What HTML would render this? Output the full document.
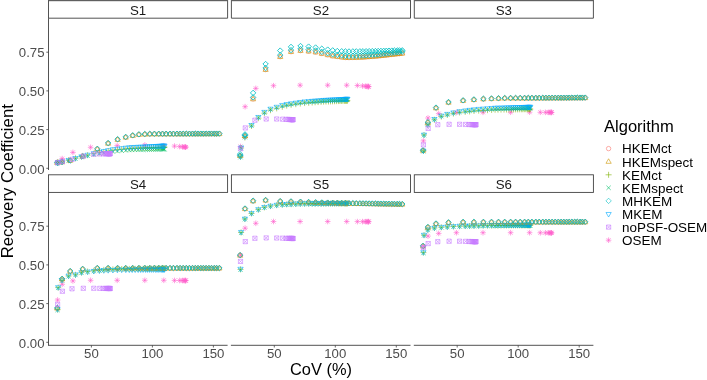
<!DOCTYPE html>
<html lang="en"><head><meta charset="utf-8"><title>Recovery Coefficient vs CoV</title>
<style>html,body{margin:0;padding:0;background:#fff}body{width:707px;height:380px;overflow:hidden}</style>
</head><body>
<svg width="707" height="380" viewBox="0 0 707 380" style="display:block;font-family:'Liberation Sans',Arial,Helvetica,sans-serif">
<rect width="707" height="380" fill="#fff"/>
<path d="M48.5 0V18.2H227.6V0" fill="none" stroke="#404040" stroke-width="0.9"/>
<rect x="48.5" y="0" width="179.1" height="1.2" fill="#606060"/>
<text x="138.05" y="14.5" font-size="13.3" text-anchor="middle" fill="#1a1a1a">S1</text>
<path d="M231.4 0V18.2H410.5V0" fill="none" stroke="#404040" stroke-width="0.9"/>
<rect x="231.4" y="0" width="179.1" height="1.2" fill="#606060"/>
<text x="320.95" y="14.5" font-size="13.3" text-anchor="middle" fill="#1a1a1a">S2</text>
<path d="M414.3 0V18.2H593.4V0" fill="none" stroke="#404040" stroke-width="0.9"/>
<rect x="414.3" y="0" width="179.1" height="1.2" fill="#606060"/>
<text x="503.85" y="14.5" font-size="13.3" text-anchor="middle" fill="#1a1a1a">S3</text>
<rect x="48.5" y="174.8" width="179.1" height="17.6" fill="none" stroke="#404040" stroke-width="0.9"/>
<text x="138.05" y="188.7" font-size="13.3" text-anchor="middle" fill="#1a1a1a">S4</text>
<rect x="231.4" y="174.8" width="179.1" height="17.6" fill="none" stroke="#404040" stroke-width="0.9"/>
<text x="320.95" y="188.7" font-size="13.3" text-anchor="middle" fill="#1a1a1a">S5</text>
<rect x="414.3" y="174.8" width="179.1" height="17.6" fill="none" stroke="#404040" stroke-width="0.9"/>
<text x="503.85" y="188.7" font-size="13.3" text-anchor="middle" fill="#1a1a1a">S6</text>
<path d="M48.5 18.2V170" stroke="#404040" stroke-width="0.9" fill="none"/>
<path d="M46.3 168.3H48.5" stroke="#444" stroke-width="0.8" fill="none"/>
<text x="44.5" y="173.5" font-size="13.2" text-anchor="end" fill="#4d4d4d">0.00</text>
<path d="M46.3 129.6H48.5" stroke="#444" stroke-width="0.8" fill="none"/>
<text x="44.5" y="134.8" font-size="13.2" text-anchor="end" fill="#4d4d4d">0.25</text>
<path d="M46.3 90.9H48.5" stroke="#444" stroke-width="0.8" fill="none"/>
<text x="44.5" y="96.1" font-size="13.2" text-anchor="end" fill="#4d4d4d">0.50</text>
<path d="M46.3 52.2H48.5" stroke="#444" stroke-width="0.8" fill="none"/>
<text x="44.5" y="57.4" font-size="13.2" text-anchor="end" fill="#4d4d4d">0.75</text>
<path d="M48.5 192.4V345.3" stroke="#404040" stroke-width="0.9" fill="none"/>
<path d="M46.3 342.3H48.5" stroke="#444" stroke-width="0.8" fill="none"/>
<text x="44.5" y="347.5" font-size="13.2" text-anchor="end" fill="#4d4d4d">0.00</text>
<path d="M46.3 303.6H48.5" stroke="#444" stroke-width="0.8" fill="none"/>
<text x="44.5" y="308.8" font-size="13.2" text-anchor="end" fill="#4d4d4d">0.25</text>
<path d="M46.3 264.9H48.5" stroke="#444" stroke-width="0.8" fill="none"/>
<text x="44.5" y="270.1" font-size="13.2" text-anchor="end" fill="#4d4d4d">0.50</text>
<path d="M46.3 226.2H48.5" stroke="#444" stroke-width="0.8" fill="none"/>
<text x="44.5" y="231.4" font-size="13.2" text-anchor="end" fill="#4d4d4d">0.75</text>
<path d="M48 345.3H227.6" stroke="#404040" stroke-width="0.9" fill="none"/>
<path d="M91.4 345.3V347.5" stroke="#444" stroke-width="0.8" fill="none"/>
<text x="91.4" y="358.2" font-size="13.2" text-anchor="middle" fill="#4d4d4d">50</text>
<path d="M152.4 345.3V347.5" stroke="#444" stroke-width="0.8" fill="none"/>
<text x="152.4" y="358.2" font-size="13.2" text-anchor="middle" fill="#4d4d4d">100</text>
<path d="M213.4 345.3V347.5" stroke="#444" stroke-width="0.8" fill="none"/>
<text x="213.4" y="358.2" font-size="13.2" text-anchor="middle" fill="#4d4d4d">150</text>
<path d="M230.9 345.3H410.5" stroke="#404040" stroke-width="0.9" fill="none"/>
<path d="M274.3 345.3V347.5" stroke="#444" stroke-width="0.8" fill="none"/>
<text x="274.3" y="358.2" font-size="13.2" text-anchor="middle" fill="#4d4d4d">50</text>
<path d="M335.3 345.3V347.5" stroke="#444" stroke-width="0.8" fill="none"/>
<text x="335.3" y="358.2" font-size="13.2" text-anchor="middle" fill="#4d4d4d">100</text>
<path d="M396.3 345.3V347.5" stroke="#444" stroke-width="0.8" fill="none"/>
<text x="396.3" y="358.2" font-size="13.2" text-anchor="middle" fill="#4d4d4d">150</text>
<path d="M413.8 345.3H593.4" stroke="#404040" stroke-width="0.9" fill="none"/>
<path d="M457.2 345.3V347.5" stroke="#444" stroke-width="0.8" fill="none"/>
<text x="457.2" y="358.2" font-size="13.2" text-anchor="middle" fill="#4d4d4d">50</text>
<path d="M518.2 345.3V347.5" stroke="#444" stroke-width="0.8" fill="none"/>
<text x="518.2" y="358.2" font-size="13.2" text-anchor="middle" fill="#4d4d4d">100</text>
<path d="M579.2 345.3V347.5" stroke="#444" stroke-width="0.8" fill="none"/>
<text x="579.2" y="358.2" font-size="13.2" text-anchor="middle" fill="#4d4d4d">150</text>
<text x="321" y="374.6" font-size="16.4" text-anchor="middle" fill="#000">CoV (%)</text>
<text transform="translate(13.0,181.25) rotate(-90) scale(1.0345,1)" font-size="16.2" text-anchor="middle" fill="#000">Recovery Coefficient</text>
<g>
<g fill="none" stroke="#FF61CC" stroke-width="0.6" stroke-linejoin="round">
<path d="M54.8 162H60.4M57.6 159.2V164.8M55.6 160L59.6 164M55.6 164L59.6 160"/>
<path d="M59.4 158.6H65M62.2 155.8V161.4M60.2 156.6L64.2 160.6M60.2 160.6L64.2 156.6"/>
<path d="M70.1 152.4H75.7M72.9 149.6V155.2M70.9 150.4L74.9 154.4M70.9 154.4L74.9 150.4"/>
<path d="M87.8 147.3H93.4M90.6 144.5V150.1M88.6 145.3L92.6 149.3M88.6 149.3L92.6 145.3"/>
<path d="M114.4 145.6H120M117.2 142.8V148.4M115.2 143.6L119.2 147.6M115.2 147.6L119.2 143.6"/>
<path d="M142 145.01H147.6M144.8 142.21V147.81M142.8 143.01L146.8 147.01M142.8 147.01L146.8 143.01"/>
<path d="M161 145.7H166.6M163.8 142.9V148.5M161.8 143.7L165.8 147.7M161.8 147.7L165.8 143.7"/>
<path d="M171.7 146.1H177.3M174.5 143.3V148.9M172.5 144.1L176.5 148.1M172.5 148.1L176.5 144.1"/>
<path d="M176.8 146.55H182.4M179.6 143.75V149.35M177.6 144.55L181.6 148.55M177.6 148.55L181.6 144.55"/>
<path d="M179.7 146.82H185.3M182.5 144.02V149.62M180.5 144.82L184.5 148.82M180.5 148.82L184.5 144.82"/>
<path d="M181.2 146.96H186.8M184 144.16V149.76M182 144.96L186 148.96M182 148.96L186 144.96"/>
<path d="M182.2 147.05H187.8M185 144.25V149.85M183 145.05L187 149.05M183 149.05L187 145.05"/>
<path d="M182.7 147.1H188.3M185.5 144.3V149.9M183.5 145.1L187.5 149.1M183.5 149.1L187.5 145.1"/>
<path d="M183 147.12H188.6M185.8 144.32V149.93M183.8 145.12L187.8 149.12M183.8 149.12L187.8 145.12"/>
</g>
<g fill="none" stroke="#7CAE00" stroke-width="0.55" stroke-linejoin="round">
<path d="M54.6 162.8H60.6M57.6 159.8V165.8"/>
<path d="M55.2 162.5H61.2M58.2 159.5V165.5"/>
<path d="M59 161.8H65M62 158.8V164.8"/>
<path d="M65.6 160.2H71.6M68.6 157.2V163.2"/>
<path d="M72.5 158.29H78.5M75.5 155.29V161.29"/>
<path d="M78.5 156.64H84.5M81.5 153.64V159.64"/>
<path d="M84.6 155.16H90.6M87.6 152.16V158.16"/>
<path d="M90.8 153.69H96.8M93.8 150.69V156.69"/>
<path d="M96.4 152.62H102.4M99.4 149.62V155.62"/>
<path d="M100.8 151.84H106.8M103.8 148.84V154.84"/>
<path d="M105.2 151.05H111.2M108.2 148.05V154.05"/>
<path d="M109.9 150.22H115.9M112.9 147.22V153.22"/>
<path d="M114.4 149.76H120.4M117.4 146.76V152.76"/>
<path d="M118.7 149.33H124.7M121.7 146.33V152.33"/>
<path d="M122.8 148.92H128.8M125.8 145.92V151.92"/>
<path d="M126.3 148.57H132.3M129.3 145.57V151.57"/>
<path d="M129.2 148.42H135.2M132.2 145.42V151.42"/>
<path d="M132.2 148.3H138.2M135.2 145.3V151.3"/>
<path d="M135.2 148.19H141.2M138.2 145.19V151.19"/>
<path d="M137.7 148.1H143.7M140.7 145.1V151.1"/>
<path d="M140.1 148.01H146.1M143.1 145.01V151.01"/>
<path d="M142.6 147.91H148.6M145.6 144.91V150.91"/>
<path d="M144.6 147.84H150.6M147.6 144.84V150.84"/>
<path d="M146.6 147.76H152.6M149.6 144.76V150.76"/>
<path d="M148.6 147.69H154.6M151.6 144.69V150.69"/>
<path d="M150.5 147.61H156.5M153.5 144.61V150.61"/>
<path d="M152.5 147.54H158.5M155.5 144.54V150.54"/>
<path d="M154 147.48H160M157 144.48V150.48"/>
<path d="M155.5 147.43H161.5M158.5 144.43V150.43"/>
<path d="M157 147.37H163M160 144.37V150.37"/>
<path d="M158.5 147.31H164.5M161.5 144.31V150.31"/>
<path d="M159.4 147.28H165.4M162.4 144.28V150.28"/>
<path d="M160.2 147.25H166.2M163.2 144.25V150.25"/>
<path d="M160.9 147.22H166.9M163.9 144.22V150.22"/>
<path d="M161.5 147.2H167.5M164.5 144.2V150.2"/>
</g>
<g fill="none" stroke="#00BE67" stroke-width="0.55" stroke-linejoin="round">
<path d="M55.45 160.85L59.75 165.15M55.45 165.15L59.75 160.85"/>
<path d="M56.05 160.55L60.35 164.85M56.05 164.85L60.35 160.55"/>
<path d="M59.85 159.85L64.15 164.15M59.85 164.15L64.15 159.85"/>
<path d="M66.45 158.35L70.75 162.65M66.45 162.65L70.75 158.35"/>
<path d="M73.35 156.55L77.65 160.85M73.35 160.85L77.65 156.55"/>
<path d="M79.35 154.98L83.65 159.28M79.35 159.28L83.65 154.98"/>
<path d="M85.45 153.64L89.75 157.94M85.45 157.94L89.75 153.64"/>
<path d="M91.65 152.31L95.95 156.61M91.65 156.61L95.95 152.31"/>
<path d="M97.25 151.39L101.55 155.69M97.25 155.69L101.55 151.39"/>
<path d="M101.65 150.73L105.95 155.03M101.65 155.03L105.95 150.73"/>
<path d="M106.05 150.07L110.35 154.37M106.05 154.37L110.35 150.07"/>
<path d="M110.75 149.36L115.05 153.66M110.75 153.66L115.05 149.36"/>
<path d="M115.25 148.96L119.55 153.26M115.25 153.26L119.55 148.96"/>
<path d="M119.55 148.58L123.85 152.88M119.55 152.88L123.85 148.58"/>
<path d="M123.65 148.22L127.95 152.52M123.65 152.52L127.95 148.22"/>
<path d="M127.15 147.91L131.45 152.21M127.15 152.21L131.45 147.91"/>
<path d="M130.05 147.8L134.35 152.1M130.05 152.1L134.35 147.8"/>
<path d="M133.05 147.73L137.35 152.03M133.05 152.03L137.35 147.73"/>
<path d="M136.05 147.66L140.35 151.96M136.05 151.96L140.35 147.66"/>
<path d="M138.55 147.6L142.85 151.9M138.55 151.9L142.85 147.6"/>
<path d="M140.95 147.55L145.25 151.85M140.95 151.85L145.25 147.55"/>
<path d="M143.45 147.49L147.75 151.79M143.45 151.79L147.75 147.49"/>
<path d="M145.45 147.44L149.75 151.74M145.45 151.74L149.75 147.44"/>
<path d="M147.45 147.4L151.75 151.7M147.45 151.7L151.75 147.4"/>
<path d="M149.45 147.35L153.75 151.65M149.45 151.65L153.75 147.35"/>
<path d="M151.35 147.31L155.65 151.61M151.35 151.61L155.65 147.31"/>
<path d="M153.35 147.26L157.65 151.56M153.35 151.56L157.65 147.26"/>
<path d="M154.85 147.22L159.15 151.52M154.85 151.52L159.15 147.22"/>
<path d="M156.35 147.19L160.65 151.49M156.35 151.49L160.65 147.19"/>
<path d="M157.85 147.15L162.15 151.45M157.85 151.45L162.15 147.15"/>
<path d="M159.35 147.12L163.65 151.42M159.35 151.42L163.65 147.12"/>
<path d="M160.25 147.1L164.55 151.4M160.25 151.4L164.55 147.1"/>
<path d="M161.05 147.08L165.35 151.38M161.05 151.38L165.35 147.08"/>
<path d="M161.75 147.06L166.05 151.36M161.75 151.36L166.05 147.06"/>
<path d="M162.35 147.05L166.65 151.35M162.35 151.35L166.65 147.05"/>
</g>
<g fill="none" stroke="#00A9FF" stroke-width="0.55" stroke-linejoin="round">
<path d="M57.6 165.63L60.23 161.08L54.97 161.08Z"/>
<path d="M58.2 165.33L60.83 160.78L55.57 160.78Z"/>
<path d="M62 164.63L64.63 160.08L59.37 160.08Z"/>
<path d="M68.6 163.03L71.23 158.48L65.97 158.48Z"/>
<path d="M75.5 161.08L78.13 156.53L72.87 156.53Z"/>
<path d="M81.5 159.37L84.13 154.83L78.87 154.83Z"/>
<path d="M87.6 157.77L90.23 153.22L84.97 153.22Z"/>
<path d="M93.8 156.15L96.43 151.6L91.17 151.6Z"/>
<path d="M99.4 154.95L102.03 150.4L96.77 150.4Z"/>
<path d="M103.8 154.07L106.43 149.52L101.17 149.52Z"/>
<path d="M108.2 153.19L110.83 148.64L105.57 148.64Z"/>
<path d="M112.9 152.25L115.53 147.7L110.27 147.7Z"/>
<path d="M117.4 151.71L120.03 147.17L114.77 147.17Z"/>
<path d="M121.7 151.21L124.33 146.66L119.07 146.66Z"/>
<path d="M125.8 150.73L128.43 146.18L123.17 146.18Z"/>
<path d="M129.3 150.31L131.93 145.77L126.67 145.77Z"/>
<path d="M132.2 150.13L134.83 145.58L129.57 145.58Z"/>
<path d="M135.2 149.99L137.83 145.44L132.57 145.44Z"/>
<path d="M138.2 149.85L140.83 145.3L135.57 145.3Z"/>
<path d="M140.7 149.74L143.33 145.19L138.07 145.19Z"/>
<path d="M143.1 149.62L145.73 145.08L140.47 145.08Z"/>
<path d="M145.6 149.51L148.23 144.96L142.97 144.96Z"/>
<path d="M147.6 149.42L150.23 144.87L144.97 144.87Z"/>
<path d="M149.6 149.32L152.23 144.77L146.97 144.77Z"/>
<path d="M151.6 149.23L154.23 144.68L148.97 144.68Z"/>
<path d="M153.5 149.14L156.13 144.59L150.87 144.59Z"/>
<path d="M155.5 149.05L158.13 144.5L152.87 144.5Z"/>
<path d="M157 148.98L159.63 144.43L154.37 144.43Z"/>
<path d="M158.5 148.91L161.13 144.36L155.87 144.36Z"/>
<path d="M160 148.84L162.63 144.29L157.37 144.29Z"/>
<path d="M161.5 148.77L164.13 144.22L158.87 144.22Z"/>
<path d="M162.4 148.73L165.03 144.18L159.77 144.18Z"/>
<path d="M163.2 148.69L165.83 144.14L160.57 144.14Z"/>
<path d="M163.9 148.66L166.53 144.11L161.27 144.11Z"/>
<path d="M164.5 148.63L167.13 144.08L161.87 144.08Z"/>
</g>
<g fill="none" stroke="#F8766D" stroke-width="0.55" stroke-linejoin="round">
<circle cx="57.2" cy="162.6" r="2.2"/>
<circle cx="62.1" cy="161.9" r="2.2"/>
<circle cx="70.2" cy="160.5" r="2.2"/>
<circle cx="82.7" cy="156.2" r="2.2"/>
<circle cx="97.3" cy="149.1" r="2.2"/>
<circle cx="108.1" cy="143.4" r="2.2"/>
<circle cx="117.6" cy="139.6" r="2.2"/>
<circle cx="125.7" cy="137.3" r="2.2"/>
<circle cx="132.7" cy="135.6" r="2.2"/>
<circle cx="138.9" cy="134.6" r="2.2"/>
<circle cx="144.8" cy="134.28" r="2.2"/>
<circle cx="149.8" cy="134.01" r="2.2"/>
<circle cx="154.4" cy="133.99" r="2.2"/>
<circle cx="158.8" cy="133.97" r="2.2"/>
<circle cx="162.5" cy="133.96" r="2.2"/>
<circle cx="166.1" cy="133.95" r="2.2"/>
<circle cx="170" cy="133.94" r="2.2"/>
<circle cx="173.4" cy="133.93" r="2.2"/>
<circle cx="177" cy="133.92" r="2.2"/>
<circle cx="180.1" cy="133.91" r="2.2"/>
<circle cx="183.2" cy="133.9" r="2.2"/>
<circle cx="186.3" cy="133.9" r="2.2"/>
<circle cx="189.4" cy="133.89" r="2.2"/>
<circle cx="192.5" cy="133.88" r="2.2"/>
<circle cx="195.3" cy="133.87" r="2.2"/>
<circle cx="198" cy="133.86" r="2.2"/>
<circle cx="200.8" cy="133.85" r="2.2"/>
<circle cx="203.4" cy="133.85" r="2.2"/>
<circle cx="206.1" cy="133.84" r="2.2"/>
<circle cx="208.9" cy="133.83" r="2.2"/>
<circle cx="211.5" cy="133.82" r="2.2"/>
<circle cx="214.3" cy="133.81" r="2.2"/>
<circle cx="216.6" cy="133.81" r="2.2"/>
<circle cx="219.4" cy="133.8" r="2.2"/>
</g>
<g fill="none" stroke="#CD9600" stroke-width="0.55" stroke-linejoin="round">
<path d="M57.2 159.87L59.83 164.42L54.57 164.42Z"/>
<path d="M62.1 159.17L64.73 163.72L59.47 163.72Z"/>
<path d="M70.2 157.77L72.83 162.32L67.57 162.32Z"/>
<path d="M82.7 153.47L85.33 158.02L80.07 158.02Z"/>
<path d="M97.3 146.37L99.93 150.92L94.67 150.92Z"/>
<path d="M108.1 140.67L110.73 145.22L105.47 145.22Z"/>
<path d="M117.6 136.87L120.23 141.42L114.97 141.42Z"/>
<path d="M125.7 134.57L128.33 139.12L123.07 139.12Z"/>
<path d="M132.7 132.87L135.33 137.42L130.07 137.42Z"/>
<path d="M138.9 131.87L141.53 136.42L136.27 136.42Z"/>
<path d="M144.8 131.55L147.43 136.1L142.17 136.1Z"/>
<path d="M149.8 131.28L152.43 135.83L147.17 135.83Z"/>
<path d="M154.4 131.26L157.03 135.8L151.77 135.8Z"/>
<path d="M158.8 131.24L161.43 135.79L156.17 135.79Z"/>
<path d="M162.5 131.23L165.13 135.78L159.87 135.78Z"/>
<path d="M166.1 131.22L168.73 135.77L163.47 135.77Z"/>
<path d="M170 131.21L172.63 135.76L167.37 135.76Z"/>
<path d="M173.4 131.2L176.03 135.75L170.77 135.75Z"/>
<path d="M177 131.19L179.63 135.74L174.37 135.74Z"/>
<path d="M180.1 131.18L182.73 135.73L177.47 135.73Z"/>
<path d="M183.2 131.17L185.83 135.72L180.57 135.72Z"/>
<path d="M186.3 131.16L188.93 135.71L183.67 135.71Z"/>
<path d="M189.4 131.15L192.03 135.7L186.77 135.7Z"/>
<path d="M192.5 131.15L195.13 135.69L189.87 135.69Z"/>
<path d="M195.3 131.14L197.93 135.69L192.67 135.69Z"/>
<path d="M198 131.13L200.63 135.68L195.37 135.68Z"/>
<path d="M200.8 131.12L203.43 135.67L198.17 135.67Z"/>
<path d="M203.4 131.11L206.03 135.66L200.77 135.66Z"/>
<path d="M206.1 131.11L208.73 135.65L203.47 135.65Z"/>
<path d="M208.9 131.1L211.53 135.65L206.27 135.65Z"/>
<path d="M211.5 131.09L214.13 135.64L208.87 135.64Z"/>
<path d="M214.3 131.08L216.93 135.63L211.67 135.63Z"/>
<path d="M216.6 131.08L219.23 135.62L213.97 135.62Z"/>
<path d="M219.4 131.07L222.03 135.62L216.77 135.62Z"/>
</g>
<g fill="none" stroke="#00BFC4" stroke-width="0.85" stroke-linejoin="round">
<path d="M57.2 159.9L59.9 162.6L57.2 165.3L54.5 162.6Z"/>
<path d="M62.1 159.2L64.8 161.9L62.1 164.6L59.4 161.9Z"/>
<path d="M70.2 157.8L72.9 160.5L70.2 163.2L67.5 160.5Z"/>
<path d="M82.7 153.5L85.4 156.2L82.7 158.9L80 156.2Z"/>
<path d="M97.3 146.1L100 148.8L97.3 151.5L94.6 148.8Z"/>
<path d="M108.1 140.3L110.8 143L108.1 145.7L105.4 143Z"/>
<path d="M117.6 136.5L120.3 139.2L117.6 141.9L114.9 139.2Z"/>
<path d="M125.7 134.2L128.4 136.9L125.7 139.6L123 136.9Z"/>
<path d="M132.7 132.6L135.4 135.3L132.7 138L130 135.3Z"/>
<path d="M138.9 131.6L141.6 134.3L138.9 137L136.2 134.3Z"/>
<path d="M144.8 131.33L147.5 134.03L144.8 136.73L142.1 134.03Z"/>
<path d="M149.8 131.11L152.5 133.81L149.8 136.51L147.1 133.81Z"/>
<path d="M154.4 131.09L157.1 133.79L154.4 136.49L151.7 133.79Z"/>
<path d="M158.8 131.07L161.5 133.77L158.8 136.47L156.1 133.77Z"/>
<path d="M162.5 131.06L165.2 133.76L162.5 136.46L159.8 133.76Z"/>
<path d="M166.1 131.05L168.8 133.75L166.1 136.45L163.4 133.75Z"/>
<path d="M170 131.04L172.7 133.74L170 136.44L167.3 133.74Z"/>
<path d="M173.4 131.03L176.1 133.73L173.4 136.43L170.7 133.73Z"/>
<path d="M177 131.02L179.7 133.72L177 136.42L174.3 133.72Z"/>
<path d="M180.1 131.01L182.8 133.71L180.1 136.41L177.4 133.71Z"/>
<path d="M183.2 131L185.9 133.7L183.2 136.4L180.5 133.7Z"/>
<path d="M186.3 131L189 133.7L186.3 136.4L183.6 133.7Z"/>
<path d="M189.4 130.99L192.1 133.69L189.4 136.39L186.7 133.69Z"/>
<path d="M192.5 130.98L195.2 133.68L192.5 136.38L189.8 133.68Z"/>
<path d="M195.3 130.97L198 133.67L195.3 136.37L192.6 133.67Z"/>
<path d="M198 130.96L200.7 133.66L198 136.36L195.3 133.66Z"/>
<path d="M200.8 130.95L203.5 133.65L200.8 136.35L198.1 133.65Z"/>
<path d="M203.4 130.95L206.1 133.65L203.4 136.35L200.7 133.65Z"/>
<path d="M206.1 130.94L208.8 133.64L206.1 136.34L203.4 133.64Z"/>
<path d="M208.9 130.93L211.6 133.63L208.9 136.33L206.2 133.63Z"/>
<path d="M211.5 130.92L214.2 133.62L211.5 136.32L208.8 133.62Z"/>
<path d="M214.3 130.91L217 133.61L214.3 136.31L211.6 133.61Z"/>
<path d="M216.6 130.91L219.3 133.61L216.6 136.31L213.9 133.61Z"/>
<path d="M219.4 130.9L222.1 133.6L219.4 136.3L216.7 133.6Z"/>
</g>
<g fill="none" stroke="#C77CFF" stroke-width="0.6" stroke-linejoin="round">
<path d="M55.5 160.5H59.7V164.7H55.5ZM55.5 160.5L59.7 164.7M55.5 164.7L59.7 160.5"/>
<path d="M60.3 159.42H64.5V163.62H60.3ZM60.3 159.42L64.5 163.62M60.3 163.62L64.5 159.42"/>
<path d="M69.9 157.26H74.1V161.46H69.9ZM69.9 157.26L74.1 161.46M69.9 161.46L74.1 157.26"/>
<path d="M81.2 154.06H85.4V158.26H81.2ZM81.2 154.06L85.4 158.26M81.2 158.26L85.4 154.06"/>
<path d="M91.7 152.1H95.9V156.3H91.7ZM91.7 152.1L95.9 156.3M91.7 156.3L95.9 152.1"/>
<path d="M97.7 151.86H101.9V156.06H97.7ZM97.7 151.86L101.9 156.06M97.7 156.06L101.9 151.86"/>
<path d="M101.1 151.73H105.3V155.93H101.1ZM101.1 151.73L105.3 155.93M101.1 155.93L105.3 151.73"/>
<path d="M103.1 151.7H107.3V155.9H103.1ZM103.1 151.7L107.3 155.9M103.1 155.9L107.3 151.7"/>
<path d="M104.5 151.7H108.7V155.9H104.5ZM104.5 151.7L108.7 155.9M104.5 155.9L108.7 151.7"/>
<path d="M105.5 151.7H109.7V155.9H105.5ZM105.5 151.7L109.7 155.9M105.5 155.9L109.7 151.7"/>
<path d="M106.3 151.7H110.5V155.9H106.3ZM106.3 151.7L110.5 155.9M106.3 155.9L110.5 151.7"/>
<path d="M106.9 151.7H111.1V155.9H106.9ZM106.9 151.7L111.1 155.9M106.9 155.9L111.1 151.7"/>
<path d="M107.4 151.7H111.6V155.9H107.4ZM107.4 151.7L111.6 155.9M107.4 155.9L111.6 151.7"/>
<path d="M107.8 151.7H112V155.9H107.8ZM107.8 151.7L112 155.9M107.8 155.9L112 151.7"/>
<path d="M108.1 151.7H112.3V155.9H108.1ZM108.1 151.7L112.3 155.9M108.1 155.9L112.3 151.7"/>
</g>
</g>
<g>
<g fill="none" stroke="#FF61CC" stroke-width="0.6" stroke-linejoin="round">
<path d="M237.7 146.5H243.3M240.5 143.7V149.3M238.5 144.5L242.5 148.5M238.5 148.5L242.5 144.5"/>
<path d="M242.3 106.7H247.9M245.1 103.9V109.5M243.1 104.7L247.1 108.7M243.1 108.7L247.1 104.7"/>
<path d="M253 88.4H258.6M255.8 85.6V91.2M253.8 86.4L257.8 90.4M253.8 90.4L257.8 86.4"/>
<path d="M270.7 85.7H276.3M273.5 82.9V88.5M271.5 83.7L275.5 87.7M271.5 87.7L275.5 83.7"/>
<path d="M297.3 85.2H302.9M300.1 82.4V88M298.1 83.2L302.1 87.2M298.1 87.2L302.1 83.2"/>
<path d="M324.9 85.2H330.5M327.7 82.4V88M325.7 83.2L329.7 87.2M325.7 87.2L329.7 83.2"/>
<path d="M343.9 85.2H349.5M346.7 82.4V88M344.7 83.2L348.7 87.2M344.7 87.2L348.7 83.2"/>
<path d="M354.6 85.5H360.2M357.4 82.7V88.3M355.4 83.5L359.4 87.5M355.4 87.5L359.4 83.5"/>
<path d="M359.7 85.95H365.3M362.5 83.15V88.75M360.5 83.95L364.5 87.95M360.5 87.95L364.5 83.95"/>
<path d="M362.6 86.25H368.2M365.4 83.45V89.05M363.4 84.25L367.4 88.25M363.4 88.25L367.4 84.25"/>
<path d="M364.1 86.41H369.7M366.9 83.61V89.21M364.9 84.41L368.9 88.41M364.9 88.41L368.9 84.41"/>
<path d="M365.1 86.52H370.7M367.9 83.72V89.32M365.9 84.52L369.9 88.52M365.9 88.52L369.9 84.52"/>
<path d="M365.6 86.57H371.2M368.4 83.77V89.37M366.4 84.57L370.4 88.57M366.4 88.57L370.4 84.57"/>
<path d="M365.9 86.6H371.5M368.7 83.8V89.4M366.7 84.6L370.7 88.6M366.7 88.6L370.7 84.6"/>
</g>
<g fill="none" stroke="#7CAE00" stroke-width="0.55" stroke-linejoin="round">
<path d="M237.5 156.9H243.5M240.5 153.9V159.9"/>
<path d="M238.1 148H244.1M241.1 145V151"/>
<path d="M241.9 137.5H247.9M244.9 134.5V140.5"/>
<path d="M248.5 126H254.5M251.5 123V129"/>
<path d="M255.4 118.2H261.4M258.4 115.2V121.2"/>
<path d="M261.4 113.2H267.4M264.4 110.2V116.2"/>
<path d="M267.5 110.2H273.5M270.5 107.2V113.2"/>
<path d="M273.7 108.4H279.7M276.7 105.4V111.4"/>
<path d="M279.3 106.8H285.3M282.3 103.8V109.8"/>
<path d="M283.7 105.62H289.7M286.7 102.62V108.62"/>
<path d="M288.1 104.85H294.1M291.1 101.85V107.85"/>
<path d="M292.8 104.19H298.8M295.8 101.19V107.19"/>
<path d="M297.3 103.56H303.3M300.3 100.56V106.56"/>
<path d="M301.6 103.07H307.6M304.6 100.07V106.07"/>
<path d="M305.7 102.77H311.7M308.7 99.77V105.77"/>
<path d="M309.2 102.5H315.2M312.2 99.5V105.5"/>
<path d="M312.1 102.28H318.1M315.1 99.28V105.28"/>
<path d="M315.1 102.06H321.1M318.1 99.06V105.06"/>
<path d="M318.1 101.84H324.1M321.1 98.84V104.84"/>
<path d="M320.6 101.67H326.6M323.6 98.67V104.67"/>
<path d="M323 101.57H329M326 98.57V104.57"/>
<path d="M325.5 101.47H331.5M328.5 98.47V104.47"/>
<path d="M327.5 101.39H333.5M330.5 98.39V104.39"/>
<path d="M329.5 101.31H335.5M332.5 98.31V104.31"/>
<path d="M331.5 101.23H337.5M334.5 98.23V104.23"/>
<path d="M333.4 101.15H339.4M336.4 98.15V104.15"/>
<path d="M335.4 101.07H341.4M338.4 98.07V104.07"/>
<path d="M336.9 101.01H342.9M339.9 98.01V104.01"/>
<path d="M338.4 100.94H344.4M341.4 97.94V103.94"/>
<path d="M339.9 100.88H345.9M342.9 97.88V103.88"/>
<path d="M341.4 100.82H347.4M344.4 97.82V103.82"/>
<path d="M342.3 100.79H348.3M345.3 97.79V103.79"/>
<path d="M343.1 100.75H349.1M346.1 97.75V103.75"/>
<path d="M343.8 100.72H349.8M346.8 97.72V103.72"/>
<path d="M344.4 100.7H350.4M347.4 97.7V103.7"/>
</g>
<g fill="none" stroke="#00BE67" stroke-width="0.55" stroke-linejoin="round">
<path d="M238.35 155.05L242.65 159.35M238.35 159.35L242.65 155.05"/>
<path d="M238.95 145.85L243.25 150.15M238.95 150.15L243.25 145.85"/>
<path d="M242.75 135.05L247.05 139.35M242.75 139.35L247.05 135.05"/>
<path d="M249.35 123.45L253.65 127.75M249.35 127.75L253.65 123.45"/>
<path d="M256.25 115.45L260.55 119.75M256.25 119.75L260.55 115.45"/>
<path d="M262.25 110.45L266.55 114.75M262.25 114.75L266.55 110.45"/>
<path d="M268.35 107.35L272.65 111.65M268.35 111.65L272.65 107.35"/>
<path d="M274.55 105.45L278.85 109.75M274.55 109.75L278.85 105.45"/>
<path d="M280.15 103.85L284.45 108.15M280.15 108.15L284.45 103.85"/>
<path d="M284.55 102.75L288.85 107.05M284.55 107.05L288.85 102.75"/>
<path d="M288.95 101.98L293.25 106.28M288.95 106.28L293.25 101.98"/>
<path d="M293.65 101.29L297.95 105.59M293.65 105.59L297.95 101.29"/>
<path d="M298.15 100.63L302.45 104.93M298.15 104.93L302.45 100.63"/>
<path d="M302.45 100.12L306.75 104.42M302.45 104.42L306.75 100.12"/>
<path d="M306.55 99.81L310.85 104.12M306.55 104.12L310.85 99.81"/>
<path d="M310.05 99.55L314.35 103.85M310.05 103.85L314.35 99.55"/>
<path d="M312.95 99.34L317.25 103.64M312.95 103.64L317.25 99.34"/>
<path d="M315.95 99.11L320.25 103.41M315.95 103.41L320.25 99.11"/>
<path d="M318.95 98.89L323.25 103.19M318.95 103.19L323.25 98.89"/>
<path d="M321.45 98.72L325.75 103.02M321.45 103.02L325.75 98.72"/>
<path d="M323.85 98.61L328.15 102.91M323.85 102.91L328.15 98.61"/>
<path d="M326.35 98.5L330.65 102.8M326.35 102.8L330.65 98.5"/>
<path d="M328.35 98.41L332.65 102.71M328.35 102.71L332.65 98.41"/>
<path d="M330.35 98.32L334.65 102.62M330.35 102.62L334.65 98.32"/>
<path d="M332.35 98.23L336.65 102.53M332.35 102.53L336.65 98.23"/>
<path d="M334.25 98.14L338.55 102.44M334.25 102.44L338.55 98.14"/>
<path d="M336.25 98.05L340.55 102.35M336.25 102.35L340.55 98.05"/>
<path d="M337.75 97.99L342.05 102.29M337.75 102.29L342.05 97.99"/>
<path d="M339.25 97.92L343.55 102.22M339.25 102.22L343.55 97.92"/>
<path d="M340.75 97.85L345.05 102.15M340.75 102.15L345.05 97.85"/>
<path d="M342.25 97.78L346.55 102.08M342.25 102.08L346.55 97.78"/>
<path d="M343.15 97.74L347.45 102.04M343.15 102.04L347.45 97.74"/>
<path d="M343.95 97.71L348.25 102.01M343.95 102.01L348.25 97.71"/>
<path d="M344.65 97.68L348.95 101.98M344.65 101.98L348.95 97.68"/>
<path d="M345.25 97.65L349.55 101.95M345.25 101.95L349.55 97.65"/>
</g>
<g fill="none" stroke="#00A9FF" stroke-width="0.55" stroke-linejoin="round">
<path d="M240.5 159.43L243.13 154.88L237.87 154.88Z"/>
<path d="M241.1 150.53L243.73 145.98L238.47 145.98Z"/>
<path d="M244.9 139.63L247.53 135.08L242.27 135.08Z"/>
<path d="M251.5 128.03L254.13 123.48L248.87 123.48Z"/>
<path d="M258.4 120.03L261.03 115.48L255.77 115.48Z"/>
<path d="M264.4 114.93L267.03 110.38L261.77 110.38Z"/>
<path d="M270.5 111.73L273.13 107.18L267.87 107.18Z"/>
<path d="M276.7 109.83L279.33 105.28L274.07 105.28Z"/>
<path d="M282.3 108.03L284.93 103.48L279.67 103.48Z"/>
<path d="M286.7 107.09L289.33 102.54L284.07 102.54Z"/>
<path d="M291.1 106.36L293.73 101.81L288.47 101.81Z"/>
<path d="M295.8 105.67L298.43 101.13L293.17 101.13Z"/>
<path d="M300.3 105.01L302.93 100.47L297.67 100.47Z"/>
<path d="M304.6 104.5L307.23 99.95L301.97 99.95Z"/>
<path d="M308.7 104.17L311.33 99.62L306.07 99.62Z"/>
<path d="M312.2 103.89L314.83 99.34L309.57 99.34Z"/>
<path d="M315.1 103.66L317.73 99.11L312.47 99.11Z"/>
<path d="M318.1 103.42L320.73 98.87L315.47 98.87Z"/>
<path d="M321.1 103.18L323.73 98.63L318.47 98.63Z"/>
<path d="M323.6 103L326.23 98.45L320.97 98.45Z"/>
<path d="M326 102.88L328.63 98.33L323.37 98.33Z"/>
<path d="M328.5 102.76L331.13 98.21L325.87 98.21Z"/>
<path d="M330.5 102.66L333.13 98.11L327.87 98.11Z"/>
<path d="M332.5 102.56L335.13 98.01L329.87 98.01Z"/>
<path d="M334.5 102.46L337.13 97.92L331.87 97.92Z"/>
<path d="M336.4 102.37L339.03 97.82L333.77 97.82Z"/>
<path d="M338.4 102.27L341.03 97.72L335.77 97.72Z"/>
<path d="M339.9 102.2L342.53 97.65L337.27 97.65Z"/>
<path d="M341.4 102.13L344.03 97.58L338.77 97.58Z"/>
<path d="M342.9 102.05L345.53 97.5L340.27 97.5Z"/>
<path d="M344.4 101.98L347.03 97.43L341.77 97.43Z"/>
<path d="M345.3 101.94L347.93 97.39L342.67 97.39Z"/>
<path d="M346.1 101.9L348.73 97.35L343.47 97.35Z"/>
<path d="M346.8 101.86L349.43 97.31L344.17 97.31Z"/>
<path d="M347.4 101.83L350.03 97.28L344.77 97.28Z"/>
</g>
<g fill="none" stroke="#F8766D" stroke-width="0.55" stroke-linejoin="round">
<circle cx="240.1" cy="155.7" r="2.2"/>
<circle cx="245" cy="136" r="2.2"/>
<circle cx="253.1" cy="99" r="2.2"/>
<circle cx="265.6" cy="69.6" r="2.2"/>
<circle cx="280.2" cy="56.7" r="2.2"/>
<circle cx="291" cy="51.7" r="2.2"/>
<circle cx="300.5" cy="50.6" r="2.2"/>
<circle cx="308.6" cy="51.2" r="2.2"/>
<circle cx="315.6" cy="52.1" r="2.2"/>
<circle cx="321.8" cy="53.5" r="2.2"/>
<circle cx="327.7" cy="54.83" r="2.2"/>
<circle cx="332.7" cy="55.95" r="2.2"/>
<circle cx="337.3" cy="56.53" r="2.2"/>
<circle cx="341.7" cy="57.07" r="2.2"/>
<circle cx="345.4" cy="57.52" r="2.2"/>
<circle cx="349" cy="57.63" r="2.2"/>
<circle cx="352.9" cy="57.51" r="2.2"/>
<circle cx="356.3" cy="57.41" r="2.2"/>
<circle cx="359.9" cy="57.29" r="2.2"/>
<circle cx="363" cy="57.19" r="2.2"/>
<circle cx="366.1" cy="56.94" r="2.2"/>
<circle cx="369.2" cy="56.7" r="2.2"/>
<circle cx="372.3" cy="56.45" r="2.2"/>
<circle cx="375.4" cy="56.2" r="2.2"/>
<circle cx="378.2" cy="55.97" r="2.2"/>
<circle cx="380.9" cy="55.67" r="2.2"/>
<circle cx="383.7" cy="55.36" r="2.2"/>
<circle cx="386.3" cy="55.07" r="2.2"/>
<circle cx="389" cy="54.77" r="2.2"/>
<circle cx="391.8" cy="54.46" r="2.2"/>
<circle cx="394.4" cy="54.17" r="2.2"/>
<circle cx="397.2" cy="53.86" r="2.2"/>
<circle cx="399.5" cy="53.61" r="2.2"/>
<circle cx="402.3" cy="53.3" r="2.2"/>
</g>
<g fill="none" stroke="#CD9600" stroke-width="0.55" stroke-linejoin="round">
<path d="M240.1 152.97L242.73 157.52L237.47 157.52Z"/>
<path d="M245 133.27L247.63 137.82L242.37 137.82Z"/>
<path d="M253.1 96.27L255.73 100.82L250.47 100.82Z"/>
<path d="M265.6 66.87L268.23 71.42L262.97 71.42Z"/>
<path d="M280.2 53.97L282.83 58.52L277.57 58.52Z"/>
<path d="M291 48.97L293.63 53.52L288.37 53.52Z"/>
<path d="M300.5 47.87L303.13 52.42L297.87 52.42Z"/>
<path d="M308.6 48.47L311.23 53.02L305.97 53.02Z"/>
<path d="M315.6 49.37L318.23 53.92L312.97 53.92Z"/>
<path d="M321.8 50.77L324.43 55.32L319.17 55.32Z"/>
<path d="M327.7 52.1L330.33 56.65L325.07 56.65Z"/>
<path d="M332.7 53.22L335.33 57.77L330.07 57.77Z"/>
<path d="M337.3 53.8L339.93 58.35L334.67 58.35Z"/>
<path d="M341.7 54.34L344.33 58.88L339.07 58.88Z"/>
<path d="M345.4 54.79L348.03 59.33L342.77 59.33Z"/>
<path d="M349 54.9L351.63 59.45L346.37 59.45Z"/>
<path d="M352.9 54.78L355.53 59.33L350.27 59.33Z"/>
<path d="M356.3 54.67L358.93 59.22L353.67 59.22Z"/>
<path d="M359.9 54.56L362.53 59.11L357.27 59.11Z"/>
<path d="M363 54.46L365.63 59.01L360.37 59.01Z"/>
<path d="M366.1 54.21L368.73 58.76L363.47 58.76Z"/>
<path d="M369.2 53.96L371.83 58.51L366.57 58.51Z"/>
<path d="M372.3 53.72L374.93 58.26L369.67 58.26Z"/>
<path d="M375.4 53.47L378.03 58.02L372.77 58.02Z"/>
<path d="M378.2 53.23L380.83 57.78L375.57 57.78Z"/>
<path d="M380.9 52.94L383.53 57.48L378.27 57.48Z"/>
<path d="M383.7 52.63L386.33 57.17L381.07 57.17Z"/>
<path d="M386.3 52.34L388.93 56.89L383.67 56.89Z"/>
<path d="M389 52.04L391.63 56.59L386.37 56.59Z"/>
<path d="M391.8 51.73L394.43 56.28L389.17 56.28Z"/>
<path d="M394.4 51.44L397.03 55.99L391.77 55.99Z"/>
<path d="M397.2 51.13L399.83 55.68L394.57 55.68Z"/>
<path d="M399.5 50.88L402.13 55.43L396.87 55.43Z"/>
<path d="M402.3 50.57L404.93 55.12L399.67 55.12Z"/>
</g>
<g fill="none" stroke="#00BFC4" stroke-width="0.85" stroke-linejoin="round">
<path d="M240.1 153L242.8 155.7L240.1 158.4L237.4 155.7Z"/>
<path d="M245 132.7L247.7 135.4L245 138.1L242.3 135.4Z"/>
<path d="M253.1 90.2L255.8 92.9L253.1 95.6L250.4 92.9Z"/>
<path d="M265.6 61.3L268.3 64L265.6 66.7L262.9 64Z"/>
<path d="M280.2 47.9L282.9 50.6L280.2 53.3L277.5 50.6Z"/>
<path d="M291 44.2L293.7 46.9L291 49.6L288.3 46.9Z"/>
<path d="M300.5 43.3L303.2 46L300.5 48.7L297.8 46Z"/>
<path d="M308.6 43.9L311.3 46.6L308.6 49.3L305.9 46.6Z"/>
<path d="M315.6 44.8L318.3 47.5L315.6 50.2L312.9 47.5Z"/>
<path d="M321.8 46L324.5 48.7L321.8 51.4L319.1 48.7Z"/>
<path d="M327.7 46.9L330.4 49.6L327.7 52.3L325 49.6Z"/>
<path d="M332.7 47.66L335.4 50.36L332.7 53.06L330 50.36Z"/>
<path d="M337.3 48.32L340 51.02L337.3 53.72L334.6 51.02Z"/>
<path d="M341.7 48.54L344.4 51.24L341.7 53.94L339 51.24Z"/>
<path d="M345.4 48.72L348.1 51.42L345.4 54.12L342.7 51.42Z"/>
<path d="M349 48.77L351.7 51.47L349 54.17L346.3 51.47Z"/>
<path d="M352.9 48.72L355.6 51.42L352.9 54.12L350.2 51.42Z"/>
<path d="M356.3 48.67L359 51.37L356.3 54.07L353.6 51.37Z"/>
<path d="M359.9 48.63L362.6 51.33L359.9 54.03L357.2 51.33Z"/>
<path d="M363 48.58L365.7 51.28L363 53.98L360.3 51.28Z"/>
<path d="M366.1 48.52L368.8 51.22L366.1 53.92L363.4 51.22Z"/>
<path d="M369.2 48.46L371.9 51.16L369.2 53.86L366.5 51.16Z"/>
<path d="M372.3 48.4L375 51.1L372.3 53.8L369.6 51.1Z"/>
<path d="M375.4 48.35L378.1 51.05L375.4 53.75L372.7 51.05Z"/>
<path d="M378.2 48.29L380.9 50.99L378.2 53.69L375.5 50.99Z"/>
<path d="M380.9 48.21L383.6 50.91L380.9 53.61L378.2 50.91Z"/>
<path d="M383.7 48.13L386.4 50.83L383.7 53.53L381 50.83Z"/>
<path d="M386.3 48.06L389 50.76L386.3 53.46L383.6 50.76Z"/>
<path d="M389 47.98L391.7 50.68L389 53.38L386.3 50.68Z"/>
<path d="M391.8 47.9L394.5 50.6L391.8 53.3L389.1 50.6Z"/>
<path d="M394.4 47.83L397.1 50.53L394.4 53.23L391.7 50.53Z"/>
<path d="M397.2 47.75L399.9 50.45L397.2 53.15L394.5 50.45Z"/>
<path d="M399.5 47.68L402.2 50.38L399.5 53.08L396.8 50.38Z"/>
<path d="M402.3 47.6L405 50.3L402.3 53L399.6 50.3Z"/>
</g>
<g fill="none" stroke="#00BFC4" stroke-width="0.85" stroke-linejoin="round">
<path d="M240.1 151.4L242.8 154.1L240.1 156.8L237.4 154.1Z"/>
<path d="M245 131.7L247.7 134.4L245 137.1L242.3 134.4Z"/>
<path d="M253.1 94.7L255.8 97.4L253.1 100.1L250.4 97.4Z"/>
<path d="M265.6 65.3L268.3 68L265.6 70.7L262.9 68Z"/>
<path d="M280.2 52.4L282.9 55.1L280.2 57.8L277.5 55.1Z"/>
<path d="M291 47.4L293.7 50.1L291 52.8L288.3 50.1Z"/>
<path d="M300.5 46.3L303.2 49L300.5 51.7L297.8 49Z"/>
<path d="M308.6 46.9L311.3 49.6L308.6 52.3L305.9 49.6Z"/>
<path d="M315.6 47.8L318.3 50.5L315.6 53.2L312.9 50.5Z"/>
<path d="M321.8 49.2L324.5 51.9L321.8 54.6L319.1 51.9Z"/>
<path d="M327.7 50.53L330.4 53.23L327.7 55.93L325 53.23Z"/>
<path d="M332.7 51.65L335.4 54.35L332.7 57.05L330 54.35Z"/>
<path d="M337.3 52.23L340 54.93L337.3 57.63L334.6 54.93Z"/>
<path d="M341.7 52.77L344.4 55.47L341.7 58.17L339 55.47Z"/>
<path d="M345.4 53.22L348.1 55.92L345.4 58.62L342.7 55.92Z"/>
<path d="M349 53.33L351.7 56.03L349 58.73L346.3 56.03Z"/>
<path d="M352.9 53.21L355.6 55.91L352.9 58.61L350.2 55.91Z"/>
<path d="M356.3 53.11L359 55.81L356.3 58.51L353.6 55.81Z"/>
<path d="M359.9 52.99L362.6 55.69L359.9 58.39L357.2 55.69Z"/>
<path d="M363 52.89L365.7 55.59L363 58.29L360.3 55.59Z"/>
<path d="M366.1 52.64L368.8 55.34L366.1 58.04L363.4 55.34Z"/>
<path d="M369.2 52.4L371.9 55.1L369.2 57.8L366.5 55.1Z"/>
<path d="M372.3 52.15L375 54.85L372.3 57.55L369.6 54.85Z"/>
<path d="M375.4 51.9L378.1 54.6L375.4 57.3L372.7 54.6Z"/>
<path d="M378.2 51.67L380.9 54.37L378.2 57.07L375.5 54.37Z"/>
<path d="M380.9 51.37L383.6 54.07L380.9 56.77L378.2 54.07Z"/>
<path d="M383.7 51.06L386.4 53.76L383.7 56.46L381 53.76Z"/>
<path d="M386.3 50.77L389 53.47L386.3 56.17L383.6 53.47Z"/>
<path d="M389 50.47L391.7 53.17L389 55.87L386.3 53.17Z"/>
<path d="M391.8 50.16L394.5 52.86L391.8 55.56L389.1 52.86Z"/>
<path d="M394.4 49.87L397.1 52.57L394.4 55.27L391.7 52.57Z"/>
<path d="M397.2 49.56L399.9 52.26L397.2 54.96L394.5 52.26Z"/>
<path d="M399.5 49.31L402.2 52.01L399.5 54.71L396.8 52.01Z"/>
<path d="M402.3 49L405 51.7L402.3 54.4L399.6 51.7Z"/>
</g>
<g fill="none" stroke="#C77CFF" stroke-width="0.6" stroke-linejoin="round">
<path d="M238.4 146.7H242.6V150.9H238.4ZM238.4 146.7L242.6 150.9M238.4 150.9L242.6 146.7"/>
<path d="M243.2 125.83H247.4V130.03H243.2ZM243.2 125.83L247.4 130.03M243.2 130.03L247.4 125.83"/>
<path d="M252.8 118.14H257V122.34H252.8ZM252.8 118.14L257 122.34M252.8 122.34L257 118.14"/>
<path d="M264.1 116.9H268.3V121.1H264.1ZM264.1 116.9L268.3 121.1M264.1 121.1L268.3 116.9"/>
<path d="M274.6 116.9H278.8V121.1H274.6ZM274.6 116.9L278.8 121.1M274.6 121.1L278.8 116.9"/>
<path d="M280.6 117.09H284.8V121.29H280.6ZM280.6 117.09L284.8 121.29M280.6 121.29L284.8 117.09"/>
<path d="M284 117.25H288.2V121.45H284ZM284 117.25L288.2 121.45M284 121.45L288.2 117.25"/>
<path d="M286 117.35H290.2V121.55H286ZM286 117.35L290.2 121.55M286 121.55L290.2 117.35"/>
<path d="M287.4 117.42H291.6V121.62H287.4ZM287.4 117.42L291.6 121.62M287.4 121.62L291.6 117.42"/>
<path d="M288.4 117.47H292.6V121.67H288.4ZM288.4 117.47L292.6 121.67M288.4 121.67L292.6 117.47"/>
<path d="M289.2 117.51H293.4V121.71H289.2ZM289.2 117.51L293.4 121.71M289.2 121.71L293.4 117.51"/>
<path d="M289.8 117.54H294V121.74H289.8ZM289.8 117.54L294 121.74M289.8 121.74L294 117.54"/>
<path d="M290.3 117.57H294.5V121.77H290.3ZM290.3 117.57L294.5 121.77M290.3 121.77L294.5 117.57"/>
<path d="M290.7 117.59H294.9V121.79H290.7ZM290.7 117.59L294.9 121.79M290.7 121.79L294.9 117.59"/>
<path d="M291 117.6H295.2V121.8H291ZM291 117.6L295.2 121.8M291 121.8L295.2 117.6"/>
</g>
</g>
<g>
<g fill="none" stroke="#FF61CC" stroke-width="0.6" stroke-linejoin="round">
<path d="M420.6 140.9H426.2M423.4 138.1V143.7M421.4 138.9L425.4 142.9M421.4 142.9L425.4 138.9"/>
<path d="M425.2 118H430.8M428 115.2V120.8M426 116L430 120M426 120L430 116"/>
<path d="M435.9 113.6H441.5M438.7 110.8V116.4M436.7 111.6L440.7 115.6M436.7 115.6L440.7 111.6"/>
<path d="M453.6 112.4H459.2M456.4 109.6V115.2M454.4 110.4L458.4 114.4M454.4 114.4L458.4 110.4"/>
<path d="M480.2 112.3H485.8M483 109.5V115.1M481 110.3L485 114.3M481 114.3L485 110.3"/>
<path d="M507.8 112.24H513.4M510.6 109.44V115.04M508.6 110.24L512.6 114.24M508.6 114.24L512.6 110.24"/>
<path d="M526.8 112.2H532.4M529.6 109.4V115M527.6 110.2L531.6 114.2M527.6 114.2L531.6 110.2"/>
<path d="M537.5 112.29H543.1M540.3 109.49V115.09M538.3 110.29L542.3 114.29M538.3 114.29L542.3 110.29"/>
<path d="M542.6 112.33H548.2M545.4 109.53V115.13M543.4 110.33L547.4 114.33M543.4 114.33L547.4 110.33"/>
<path d="M545.5 112.36H551.1M548.3 109.56V115.16M546.3 110.36L550.3 114.36M546.3 114.36L550.3 110.36"/>
<path d="M547 112.37H552.6M549.8 109.57V115.17M547.8 110.37L551.8 114.37M547.8 114.37L551.8 110.37"/>
<path d="M548 112.38H553.6M550.8 109.58V115.18M548.8 110.38L552.8 114.38M548.8 114.38L552.8 110.38"/>
<path d="M548.5 112.38H554.1M551.3 109.58V115.18M549.3 110.38L553.3 114.38M549.3 114.38L553.3 110.38"/>
<path d="M548.8 112.38H554.4M551.6 109.58V115.18M549.6 110.38L553.6 114.38M549.6 114.38L553.6 110.38"/>
</g>
<g fill="none" stroke="#7CAE00" stroke-width="0.55" stroke-linejoin="round">
<path d="M420.4 151H426.4M423.4 148V154"/>
<path d="M421 135H427M424 132V138"/>
<path d="M424.8 125H430.8M427.8 122V128"/>
<path d="M431.4 119.8H437.4M434.4 116.8V122.8"/>
<path d="M438.3 116.6H444.3M441.3 113.6V119.6"/>
<path d="M444.3 115H450.3M447.3 112V118"/>
<path d="M450.4 113.6H456.4M453.4 110.6V116.6"/>
<path d="M456.6 112.49H462.6M459.6 109.49V115.49"/>
<path d="M462.2 111.88H468.2M465.2 108.88V114.88"/>
<path d="M466.6 111.43H472.6M469.6 108.43V114.43"/>
<path d="M471 110.98H477M474 107.98V113.98"/>
<path d="M475.7 110.64H481.7M478.7 107.64V113.64"/>
<path d="M480.2 110.39H486.2M483.2 107.39V113.39"/>
<path d="M484.5 110.16H490.5M487.5 107.16V113.16"/>
<path d="M488.6 109.93H494.6M491.6 106.93V112.93"/>
<path d="M492.1 109.74H498.1M495.1 106.74V112.74"/>
<path d="M495 109.66H501M498 106.66V112.66"/>
<path d="M498 109.61H504M501 106.61V112.61"/>
<path d="M501 109.56H507M504 106.56V112.56"/>
<path d="M503.5 109.51H509.5M506.5 106.51V112.51"/>
<path d="M505.9 109.47H511.9M508.9 106.47V112.47"/>
<path d="M508.4 109.43H514.4M511.4 106.43V112.43"/>
<path d="M510.4 109.39H516.4M513.4 106.39V112.39"/>
<path d="M512.4 109.36H518.4M515.4 106.36V112.36"/>
<path d="M514.4 109.32H520.4M517.4 106.32V112.32"/>
<path d="M516.3 109.29H522.3M519.3 106.29V112.29"/>
<path d="M518.3 109.26H524.3M521.3 106.26V112.26"/>
<path d="M519.8 109.23H525.8M522.8 106.23V112.23"/>
<path d="M521.3 109.2H527.3M524.3 106.2V112.2"/>
<path d="M522.8 109.18H528.8M525.8 106.18V112.18"/>
<path d="M524.3 109.15H530.3M527.3 106.15V112.15"/>
<path d="M525.2 109.14H531.2M528.2 106.14V112.14"/>
<path d="M526 109.12H532M529 106.12V112.12"/>
<path d="M526.7 109.11H532.7M529.7 106.11V112.11"/>
<path d="M527.3 109.1H533.3M530.3 106.1V112.1"/>
</g>
<g fill="none" stroke="#00BE67" stroke-width="0.55" stroke-linejoin="round">
<path d="M421.25 149.15L425.55 153.45M421.25 153.45L425.55 149.15"/>
<path d="M421.85 133.05L426.15 137.35M421.85 137.35L426.15 133.05"/>
<path d="M425.65 122.65L429.95 126.95M425.65 126.95L429.95 122.65"/>
<path d="M432.25 117.35L436.55 121.65M432.25 121.65L436.55 117.35"/>
<path d="M439.15 114.05L443.45 118.35M439.15 118.35L443.45 114.05"/>
<path d="M445.15 112.45L449.45 116.75M445.15 116.75L449.45 112.45"/>
<path d="M451.25 111.05L455.55 115.35M451.25 115.35L455.55 111.05"/>
<path d="M457.45 109.85L461.75 114.15M457.45 114.15L461.75 109.85"/>
<path d="M463.05 109.17L467.35 113.47M463.05 113.47L467.35 109.17"/>
<path d="M467.45 108.66L471.75 112.96M467.45 112.96L471.75 108.66"/>
<path d="M471.85 108.16L476.15 112.46M471.85 112.46L476.15 108.16"/>
<path d="M476.55 107.78L480.85 112.08M476.55 112.08L480.85 107.78"/>
<path d="M481.05 107.51L485.35 111.81M481.05 111.81L485.35 107.51"/>
<path d="M485.35 107.25L489.65 111.55M485.35 111.55L489.65 107.25"/>
<path d="M489.45 107L493.75 111.3M489.45 111.3L493.75 107"/>
<path d="M492.95 106.79L497.25 111.09M492.95 111.09L497.25 106.79"/>
<path d="M495.85 106.71L500.15 111.01M495.85 111.01L500.15 106.71"/>
<path d="M498.85 106.64L503.15 110.94M498.85 110.94L503.15 106.64"/>
<path d="M501.85 106.58L506.15 110.88M501.85 110.88L506.15 106.58"/>
<path d="M504.35 106.53L508.65 110.83M504.35 110.83L508.65 106.53"/>
<path d="M506.75 106.48L511.05 110.78M506.75 110.78L511.05 106.48"/>
<path d="M509.25 106.43L513.55 110.73M509.25 110.73L513.55 106.43"/>
<path d="M511.25 106.39L515.55 110.69M511.25 110.69L515.55 106.39"/>
<path d="M513.25 106.35L517.55 110.65M513.25 110.65L517.55 106.35"/>
<path d="M515.25 106.31L519.55 110.61M515.25 110.61L519.55 106.31"/>
<path d="M517.15 106.27L521.45 110.57M517.15 110.57L521.45 106.27"/>
<path d="M519.15 106.23L523.45 110.53M519.15 110.53L523.45 106.23"/>
<path d="M520.65 106.2L524.95 110.5M520.65 110.5L524.95 106.2"/>
<path d="M522.15 106.17L526.45 110.47M522.15 110.47L526.45 106.17"/>
<path d="M523.65 106.14L527.95 110.44M523.65 110.44L527.95 106.14"/>
<path d="M525.15 106.11L529.45 110.41M525.15 110.41L529.45 106.11"/>
<path d="M526.05 106.09L530.35 110.39M526.05 110.39L530.35 106.09"/>
<path d="M526.85 106.08L531.15 110.38M526.85 110.38L531.15 106.08"/>
<path d="M527.55 106.06L531.85 110.36M527.55 110.36L531.85 106.06"/>
<path d="M528.15 106.05L532.45 110.35M528.15 110.35L532.45 106.05"/>
</g>
<g fill="none" stroke="#00A9FF" stroke-width="0.55" stroke-linejoin="round">
<path d="M423.4 153.63L426.03 149.08L420.77 149.08Z"/>
<path d="M424 137.63L426.63 133.08L421.37 133.08Z"/>
<path d="M427.8 127.43L430.43 122.88L425.17 122.88Z"/>
<path d="M434.4 122.03L437.03 117.48L431.77 117.48Z"/>
<path d="M441.3 118.63L443.93 114.08L438.67 114.08Z"/>
<path d="M447.3 116.93L449.93 112.38L444.67 112.38Z"/>
<path d="M453.4 115.43L456.03 110.88L450.77 110.88Z"/>
<path d="M459.6 114.23L462.23 109.68L456.97 109.68Z"/>
<path d="M465.2 113.48L467.83 108.93L462.57 108.93Z"/>
<path d="M469.6 112.92L472.23 108.37L466.97 108.37Z"/>
<path d="M474 112.36L476.63 107.81L471.37 107.81Z"/>
<path d="M478.7 111.93L481.33 107.38L476.07 107.38Z"/>
<path d="M483.2 111.61L485.83 107.07L480.57 107.07Z"/>
<path d="M487.5 111.31L490.13 106.76L484.87 106.76Z"/>
<path d="M491.6 111.03L494.23 106.48L488.97 106.48Z"/>
<path d="M495.1 110.78L497.73 106.23L492.47 106.23Z"/>
<path d="M498 110.67L500.63 106.13L495.37 106.13Z"/>
<path d="M501 110.6L503.63 106.05L498.37 106.05Z"/>
<path d="M504 110.52L506.63 105.97L501.37 105.97Z"/>
<path d="M506.5 110.45L509.13 105.9L503.87 105.9Z"/>
<path d="M508.9 110.39L511.53 105.84L506.27 105.84Z"/>
<path d="M511.4 110.33L514.03 105.78L508.77 105.78Z"/>
<path d="M513.4 110.27L516.03 105.72L510.77 105.72Z"/>
<path d="M515.4 110.22L518.03 105.67L512.77 105.67Z"/>
<path d="M517.4 110.17L520.03 105.62L514.77 105.62Z"/>
<path d="M519.3 110.12L521.93 105.57L516.67 105.57Z"/>
<path d="M521.3 110.07L523.93 105.52L518.67 105.52Z"/>
<path d="M522.8 110.03L525.43 105.48L520.17 105.48Z"/>
<path d="M524.3 109.99L526.93 105.44L521.67 105.44Z"/>
<path d="M525.8 109.95L528.43 105.4L523.17 105.4Z"/>
<path d="M527.3 109.91L529.93 105.36L524.67 105.36Z"/>
<path d="M528.2 109.89L530.83 105.34L525.57 105.34Z"/>
<path d="M529 109.87L531.63 105.32L526.37 105.32Z"/>
<path d="M529.7 109.85L532.33 105.3L527.07 105.3Z"/>
<path d="M530.3 109.83L532.93 105.28L527.67 105.28Z"/>
</g>
<g fill="none" stroke="#F8766D" stroke-width="0.55" stroke-linejoin="round">
<circle cx="423" cy="150.5" r="2.2"/>
<circle cx="427.9" cy="122.5" r="2.2"/>
<circle cx="436" cy="108" r="2.2"/>
<circle cx="448.5" cy="102.4" r="2.2"/>
<circle cx="463.1" cy="100.6" r="2.2"/>
<circle cx="473.9" cy="99.7" r="2.2"/>
<circle cx="483.4" cy="99" r="2.2"/>
<circle cx="491.5" cy="98.71" r="2.2"/>
<circle cx="498.5" cy="98.46" r="2.2"/>
<circle cx="504.7" cy="98.24" r="2.2"/>
<circle cx="510.6" cy="98.18" r="2.2"/>
<circle cx="515.6" cy="98.15" r="2.2"/>
<circle cx="520.2" cy="98.13" r="2.2"/>
<circle cx="524.6" cy="98.11" r="2.2"/>
<circle cx="528.3" cy="98.09" r="2.2"/>
<circle cx="531.9" cy="98.07" r="2.2"/>
<circle cx="535.8" cy="98.05" r="2.2"/>
<circle cx="539.2" cy="98.03" r="2.2"/>
<circle cx="542.8" cy="98.01" r="2.2"/>
<circle cx="545.9" cy="98" r="2.2"/>
<circle cx="549" cy="97.98" r="2.2"/>
<circle cx="552.1" cy="97.97" r="2.2"/>
<circle cx="555.2" cy="97.95" r="2.2"/>
<circle cx="558.3" cy="97.94" r="2.2"/>
<circle cx="561.1" cy="97.92" r="2.2"/>
<circle cx="563.8" cy="97.91" r="2.2"/>
<circle cx="566.6" cy="97.89" r="2.2"/>
<circle cx="569.2" cy="97.88" r="2.2"/>
<circle cx="571.9" cy="97.87" r="2.2"/>
<circle cx="574.7" cy="97.85" r="2.2"/>
<circle cx="577.3" cy="97.84" r="2.2"/>
<circle cx="580.1" cy="97.83" r="2.2"/>
<circle cx="582.4" cy="97.81" r="2.2"/>
<circle cx="585.2" cy="97.8" r="2.2"/>
</g>
<g fill="none" stroke="#CD9600" stroke-width="0.55" stroke-linejoin="round">
<path d="M423 147.77L425.63 152.32L420.37 152.32Z"/>
<path d="M427.9 119.77L430.53 124.32L425.27 124.32Z"/>
<path d="M436 105.27L438.63 109.82L433.37 109.82Z"/>
<path d="M448.5 99.67L451.13 104.22L445.87 104.22Z"/>
<path d="M463.1 97.87L465.73 102.42L460.47 102.42Z"/>
<path d="M473.9 96.97L476.53 101.52L471.27 101.52Z"/>
<path d="M483.4 96.27L486.03 100.82L480.77 100.82Z"/>
<path d="M491.5 95.98L494.13 100.53L488.87 100.53Z"/>
<path d="M498.5 95.73L501.13 100.28L495.87 100.28Z"/>
<path d="M504.7 95.51L507.33 100.06L502.07 100.06Z"/>
<path d="M510.6 95.44L513.23 99.99L507.97 99.99Z"/>
<path d="M515.6 95.42L518.23 99.97L512.97 99.97Z"/>
<path d="M520.2 95.4L522.83 99.94L517.57 99.94Z"/>
<path d="M524.6 95.37L527.23 99.92L521.97 99.92Z"/>
<path d="M528.3 95.35L530.93 99.9L525.67 99.9Z"/>
<path d="M531.9 95.34L534.53 99.88L529.27 99.88Z"/>
<path d="M535.8 95.32L538.43 99.87L533.17 99.87Z"/>
<path d="M539.2 95.3L541.83 99.85L536.57 99.85Z"/>
<path d="M542.8 95.28L545.43 99.83L540.17 99.83Z"/>
<path d="M545.9 95.27L548.53 99.81L543.27 99.81Z"/>
<path d="M549 95.25L551.63 99.8L546.37 99.8Z"/>
<path d="M552.1 95.23L554.73 99.78L549.47 99.78Z"/>
<path d="M555.2 95.22L557.83 99.77L552.57 99.77Z"/>
<path d="M558.3 95.2L560.93 99.75L555.67 99.75Z"/>
<path d="M561.1 95.19L563.73 99.74L558.47 99.74Z"/>
<path d="M563.8 95.18L566.43 99.72L561.17 99.72Z"/>
<path d="M566.6 95.16L569.23 99.71L563.97 99.71Z"/>
<path d="M569.2 95.15L571.83 99.7L566.57 99.7Z"/>
<path d="M571.9 95.13L574.53 99.68L569.27 99.68Z"/>
<path d="M574.7 95.12L577.33 99.67L572.07 99.67Z"/>
<path d="M577.3 95.11L579.93 99.66L574.67 99.66Z"/>
<path d="M580.1 95.09L582.73 99.64L577.47 99.64Z"/>
<path d="M582.4 95.08L585.03 99.63L579.77 99.63Z"/>
<path d="M585.2 95.07L587.83 99.62L582.57 99.62Z"/>
</g>
<g fill="none" stroke="#00BFC4" stroke-width="0.85" stroke-linejoin="round">
<path d="M423 147.6L425.7 150.3L423 153L420.3 150.3Z"/>
<path d="M427.9 119.5L430.6 122.2L427.9 124.9L425.2 122.2Z"/>
<path d="M436 104.9L438.7 107.6L436 110.3L433.3 107.6Z"/>
<path d="M448.5 99.3L451.2 102L448.5 104.7L445.8 102Z"/>
<path d="M463.1 97.6L465.8 100.3L463.1 103L460.4 100.3Z"/>
<path d="M473.9 96.7L476.6 99.4L473.9 102.1L471.2 99.4Z"/>
<path d="M483.4 96L486.1 98.7L483.4 101.4L480.7 98.7Z"/>
<path d="M491.5 95.75L494.2 98.45L491.5 101.15L488.8 98.45Z"/>
<path d="M498.5 95.53L501.2 98.23L498.5 100.93L495.8 98.23Z"/>
<path d="M504.7 95.33L507.4 98.03L504.7 100.73L502 98.03Z"/>
<path d="M510.6 95.28L513.3 97.98L510.6 100.68L507.9 97.98Z"/>
<path d="M515.6 95.25L518.3 97.95L515.6 100.65L512.9 97.95Z"/>
<path d="M520.2 95.23L522.9 97.93L520.2 100.63L517.5 97.93Z"/>
<path d="M524.6 95.21L527.3 97.91L524.6 100.61L521.9 97.91Z"/>
<path d="M528.3 95.19L531 97.89L528.3 100.59L525.6 97.89Z"/>
<path d="M531.9 95.17L534.6 97.87L531.9 100.57L529.2 97.87Z"/>
<path d="M535.8 95.15L538.5 97.85L535.8 100.55L533.1 97.85Z"/>
<path d="M539.2 95.13L541.9 97.83L539.2 100.53L536.5 97.83Z"/>
<path d="M542.8 95.11L545.5 97.81L542.8 100.51L540.1 97.81Z"/>
<path d="M545.9 95.1L548.6 97.8L545.9 100.5L543.2 97.8Z"/>
<path d="M549 95.08L551.7 97.78L549 100.48L546.3 97.78Z"/>
<path d="M552.1 95.07L554.8 97.77L552.1 100.47L549.4 97.77Z"/>
<path d="M555.2 95.05L557.9 97.75L555.2 100.45L552.5 97.75Z"/>
<path d="M558.3 95.04L561 97.74L558.3 100.44L555.6 97.74Z"/>
<path d="M561.1 95.02L563.8 97.72L561.1 100.42L558.4 97.72Z"/>
<path d="M563.8 95.01L566.5 97.71L563.8 100.41L561.1 97.71Z"/>
<path d="M566.6 94.99L569.3 97.69L566.6 100.39L563.9 97.69Z"/>
<path d="M569.2 94.98L571.9 97.68L569.2 100.38L566.5 97.68Z"/>
<path d="M571.9 94.97L574.6 97.67L571.9 100.37L569.2 97.67Z"/>
<path d="M574.7 94.95L577.4 97.65L574.7 100.35L572 97.65Z"/>
<path d="M577.3 94.94L580 97.64L577.3 100.34L574.6 97.64Z"/>
<path d="M580.1 94.93L582.8 97.63L580.1 100.33L577.4 97.63Z"/>
<path d="M582.4 94.91L585.1 97.61L582.4 100.31L579.7 97.61Z"/>
<path d="M585.2 94.9L587.9 97.6L585.2 100.3L582.5 97.6Z"/>
</g>
<g fill="none" stroke="#C77CFF" stroke-width="0.6" stroke-linejoin="round">
<path d="M421.3 142.8H425.5V147H421.3ZM421.3 142.8L425.5 147M421.3 147L425.5 142.8"/>
<path d="M426.1 126.34H430.3V130.54H426.1ZM426.1 126.34L430.3 130.54M426.1 130.54L430.3 126.34"/>
<path d="M435.7 122.58H439.9V126.78H435.7ZM435.7 122.58L439.9 126.78M435.7 126.78L439.9 122.58"/>
<path d="M447 122.2H451.2V126.4H447ZM447 122.2L451.2 126.4M447 126.4L451.2 122.2"/>
<path d="M457.5 122.2H461.7V126.4H457.5ZM457.5 122.2L461.7 126.4M457.5 126.4L461.7 122.2"/>
<path d="M463.5 122.35H467.7V126.55H463.5ZM463.5 122.35L467.7 126.55M463.5 126.55L467.7 122.35"/>
<path d="M466.9 122.43H471.1V126.63H466.9ZM466.9 122.43L471.1 126.63M466.9 126.63L471.1 122.43"/>
<path d="M468.9 122.48H473.1V126.68H468.9ZM468.9 122.48L473.1 126.68M468.9 126.68L473.1 122.48"/>
<path d="M470.3 122.51H474.5V126.71H470.3ZM470.3 122.51L474.5 126.71M470.3 126.71L474.5 122.51"/>
<path d="M471.3 122.54H475.5V126.74H471.3ZM471.3 122.54L475.5 126.74M471.3 126.74L475.5 122.54"/>
<path d="M472.1 122.56H476.3V126.76H472.1ZM472.1 122.56L476.3 126.76M472.1 126.76L476.3 122.56"/>
<path d="M472.7 122.57H476.9V126.77H472.7ZM472.7 122.57L476.9 126.77M472.7 126.77L476.9 122.57"/>
<path d="M473.2 122.58H477.4V126.78H473.2ZM473.2 122.58L477.4 126.78M473.2 126.78L477.4 122.58"/>
<path d="M473.6 122.59H477.8V126.79H473.6ZM473.6 122.59L477.8 126.79M473.6 126.79L477.8 122.59"/>
<path d="M473.9 122.6H478.1V126.8H473.9ZM473.9 122.6L478.1 126.8M473.9 126.8L478.1 122.6"/>
</g>
</g>
<g>
<g fill="none" stroke="#FF61CC" stroke-width="0.6" stroke-linejoin="round">
<path d="M54.8 300H60.4M57.6 297.2V302.8M55.6 298L59.6 302M55.6 302L59.6 298"/>
<path d="M59.4 284.3H65M62.2 281.5V287.1M60.2 282.3L64.2 286.3M60.2 286.3L64.2 282.3"/>
<path d="M70.1 280.9H75.7M72.9 278.1V283.7M70.9 278.9L74.9 282.9M70.9 282.9L74.9 278.9"/>
<path d="M87.8 280.3H93.4M90.6 277.5V283.1M88.6 278.3L92.6 282.3M88.6 282.3L92.6 278.3"/>
<path d="M114.4 280.3H120M117.2 277.5V283.1M115.2 278.3L119.2 282.3M115.2 282.3L119.2 278.3"/>
<path d="M142 280.3H147.6M144.8 277.5V283.1M142.8 278.3L146.8 282.3M142.8 282.3L146.8 278.3"/>
<path d="M161 280.3H166.6M163.8 277.5V283.1M161.8 278.3L165.8 282.3M161.8 282.3L165.8 278.3"/>
<path d="M171.7 280.43H177.3M174.5 277.63V283.23M172.5 278.43L176.5 282.43M172.5 282.43L176.5 278.43"/>
<path d="M176.8 280.5H182.4M179.6 277.7V283.3M177.6 278.5L181.6 282.5M177.6 282.5L181.6 278.5"/>
<path d="M179.7 280.53H185.3M182.5 277.73V283.33M180.5 278.53L184.5 282.53M180.5 282.53L184.5 278.53"/>
<path d="M181.2 280.55H186.8M184 277.75V283.35M182 278.55L186 282.55M182 282.55L186 278.55"/>
<path d="M182.2 280.57H187.8M185 277.77V283.37M183 278.57L187 282.57M183 282.57L187 278.57"/>
<path d="M182.7 280.57H188.3M185.5 277.77V283.37M183.5 278.57L187.5 282.57M183.5 282.57L187.5 278.57"/>
<path d="M183 280.58H188.6M185.8 277.78V283.38M183.8 278.58L187.8 282.58M183.8 282.58L187.8 278.58"/>
</g>
<g fill="none" stroke="#7CAE00" stroke-width="0.55" stroke-linejoin="round">
<path d="M54.6 309.6H60.6M57.6 306.6V312.6"/>
<path d="M55.2 287.6H61.2M58.2 284.6V290.6"/>
<path d="M59 280.4H65M62 277.4V283.4"/>
<path d="M65.6 276H71.6M68.6 273V279"/>
<path d="M72.5 274.8H78.5M75.5 271.8V277.8"/>
<path d="M78.5 272.6H84.5M81.5 269.6V275.6"/>
<path d="M84.6 271.5H90.6M87.6 268.5V274.5"/>
<path d="M90.8 270.8H96.8M93.8 267.8V273.8"/>
<path d="M96.4 270.18H102.4M99.4 267.18V273.18"/>
<path d="M100.8 269.85H106.8M103.8 266.85V272.85"/>
<path d="M105.2 269.62H111.2M108.2 266.62V272.62"/>
<path d="M109.9 269.37H115.9M112.9 266.37V272.37"/>
<path d="M114.4 269.14H120.4M117.4 266.14V272.14"/>
<path d="M118.7 268.98H124.7M121.7 265.98V271.98"/>
<path d="M122.8 268.93H128.8M125.8 265.93V271.93"/>
<path d="M126.3 268.9H132.3M129.3 265.9V271.9"/>
<path d="M129.2 268.86H135.2M132.2 265.86V271.86"/>
<path d="M132.2 268.83H138.2M135.2 265.83V271.83"/>
<path d="M135.2 268.8H141.2M138.2 265.8V271.8"/>
<path d="M137.7 268.77H143.7M140.7 265.77V271.77"/>
<path d="M140.1 268.74H146.1M143.1 265.74V271.74"/>
<path d="M142.6 268.71H148.6M145.6 265.71V271.71"/>
<path d="M144.6 268.69H150.6M147.6 265.69V271.69"/>
<path d="M146.6 268.67H152.6M149.6 265.67V271.67"/>
<path d="M148.6 268.64H154.6M151.6 265.64V271.64"/>
<path d="M150.5 268.62H156.5M153.5 265.62V271.62"/>
<path d="M152.5 268.6H158.5M155.5 265.6V271.6"/>
<path d="M154 268.58H160M157 265.58V271.58"/>
<path d="M155.5 268.57H161.5M158.5 265.57V271.57"/>
<path d="M157 268.55H163M160 265.55V271.55"/>
<path d="M158.5 268.53H164.5M161.5 265.53V271.53"/>
<path d="M159.4 268.52H165.4M162.4 265.52V271.52"/>
<path d="M160.2 268.51H166.2M163.2 265.51V271.51"/>
<path d="M160.9 268.51H166.9M163.9 265.51V271.51"/>
<path d="M161.5 268.5H167.5M164.5 265.5V271.5"/>
</g>
<g fill="none" stroke="#00BE67" stroke-width="0.55" stroke-linejoin="round">
<path d="M55.45 307.85L59.75 312.15M55.45 312.15L59.75 307.85"/>
<path d="M56.05 285.75L60.35 290.05M56.05 290.05L60.35 285.75"/>
<path d="M59.85 278.45L64.15 282.75M59.85 282.75L64.15 278.45"/>
<path d="M66.45 274.15L70.75 278.45M66.45 278.45L70.75 274.15"/>
<path d="M73.35 272.85L77.65 277.15M73.35 277.15L77.65 272.85"/>
<path d="M79.35 270.75L83.65 275.05M79.35 275.05L83.65 270.75"/>
<path d="M85.45 269.65L89.75 273.95M85.45 273.95L89.75 269.65"/>
<path d="M91.65 268.95L95.95 273.25M91.65 273.25L95.95 268.95"/>
<path d="M97.25 268.33L101.55 272.63M97.25 272.63L101.55 268.33"/>
<path d="M101.65 268L105.95 272.3M101.65 272.3L105.95 268"/>
<path d="M106.05 267.77L110.35 272.07M106.05 272.07L110.35 267.77"/>
<path d="M110.75 267.52L115.05 271.82M110.75 271.82L115.05 267.52"/>
<path d="M115.25 267.29L119.55 271.59M115.25 271.59L119.55 267.29"/>
<path d="M119.55 267.13L123.85 271.43M119.55 271.43L123.85 267.13"/>
<path d="M123.65 267.08L127.95 271.38M123.65 271.38L127.95 267.08"/>
<path d="M127.15 267.05L131.45 271.35M127.15 271.35L131.45 267.05"/>
<path d="M130.05 267.01L134.35 271.31M130.05 271.31L134.35 267.01"/>
<path d="M133.05 266.98L137.35 271.28M133.05 271.28L137.35 266.98"/>
<path d="M136.05 266.95L140.35 271.25M136.05 271.25L140.35 266.95"/>
<path d="M138.55 266.92L142.85 271.22M138.55 271.22L142.85 266.92"/>
<path d="M140.95 266.89L145.25 271.19M140.95 271.19L145.25 266.89"/>
<path d="M143.45 266.86L147.75 271.16M143.45 271.16L147.75 266.86"/>
<path d="M145.45 266.84L149.75 271.14M145.45 271.14L149.75 266.84"/>
<path d="M147.45 266.82L151.75 271.12M147.45 271.12L151.75 266.82"/>
<path d="M149.45 266.79L153.75 271.09M149.45 271.09L153.75 266.79"/>
<path d="M151.35 266.77L155.65 271.07M151.35 271.07L155.65 266.77"/>
<path d="M153.35 266.75L157.65 271.05M153.35 271.05L157.65 266.75"/>
<path d="M154.85 266.73L159.15 271.03M154.85 271.03L159.15 266.73"/>
<path d="M156.35 266.72L160.65 271.02M156.35 271.02L160.65 266.72"/>
<path d="M157.85 266.7L162.15 271M157.85 271L162.15 266.7"/>
<path d="M159.35 266.68L163.65 270.98M159.35 270.98L163.65 266.68"/>
<path d="M160.25 266.67L164.55 270.97M160.25 270.97L164.55 266.67"/>
<path d="M161.05 266.66L165.35 270.96M161.05 270.96L165.35 266.66"/>
<path d="M161.75 266.66L166.05 270.96M161.75 270.96L166.05 266.66"/>
<path d="M162.35 266.65L166.65 270.95M162.35 270.95L166.65 266.65"/>
</g>
<g fill="none" stroke="#00A9FF" stroke-width="0.55" stroke-linejoin="round">
<path d="M57.6 312.23L60.23 307.68L54.97 307.68Z"/>
<path d="M58.2 290.23L60.83 285.68L55.57 285.68Z"/>
<path d="M62 283.03L64.63 278.48L59.37 278.48Z"/>
<path d="M68.6 278.63L71.23 274.08L65.97 274.08Z"/>
<path d="M75.5 277.43L78.13 272.88L72.87 272.88Z"/>
<path d="M81.5 275.23L84.13 270.68L78.87 270.68Z"/>
<path d="M87.6 274.63L90.23 270.08L84.97 270.08Z"/>
<path d="M93.8 274.03L96.43 269.48L91.17 269.48Z"/>
<path d="M99.4 273.57L102.03 269.02L96.77 269.02Z"/>
<path d="M103.8 273.33L106.43 268.78L101.17 268.78Z"/>
<path d="M108.2 273.17L110.83 268.62L105.57 268.62Z"/>
<path d="M112.9 272.99L115.53 268.45L110.27 268.45Z"/>
<path d="M117.4 272.83L120.03 268.28L114.77 268.28Z"/>
<path d="M121.7 272.72L124.33 268.17L119.07 268.17Z"/>
<path d="M125.8 272.68L128.43 268.13L123.17 268.13Z"/>
<path d="M129.3 272.65L131.93 268.1L126.67 268.1Z"/>
<path d="M132.2 272.62L134.83 268.07L129.57 268.07Z"/>
<path d="M135.2 272.6L137.83 268.05L132.57 268.05Z"/>
<path d="M138.2 272.57L140.83 268.02L135.57 268.02Z"/>
<path d="M140.7 272.55L143.33 268L138.07 268Z"/>
<path d="M143.1 272.52L145.73 267.98L140.47 267.98Z"/>
<path d="M145.6 272.5L148.23 267.95L142.97 267.95Z"/>
<path d="M147.6 272.48L150.23 267.94L144.97 267.94Z"/>
<path d="M149.6 272.47L152.23 267.92L146.97 267.92Z"/>
<path d="M151.6 272.45L154.23 267.9L148.97 267.9Z"/>
<path d="M153.5 272.43L156.13 267.88L150.87 267.88Z"/>
<path d="M155.5 272.41L158.13 267.86L152.87 267.86Z"/>
<path d="M157 272.4L159.63 267.85L154.37 267.85Z"/>
<path d="M158.5 272.39L161.13 267.84L155.87 267.84Z"/>
<path d="M160 272.37L162.63 267.82L157.37 267.82Z"/>
<path d="M161.5 272.36L164.13 267.81L158.87 267.81Z"/>
<path d="M162.4 272.35L165.03 267.8L159.77 267.8Z"/>
<path d="M163.2 272.34L165.83 267.8L160.57 267.8Z"/>
<path d="M163.9 272.34L166.53 267.79L161.27 267.79Z"/>
<path d="M164.5 272.33L167.13 267.78L161.87 267.78Z"/>
</g>
<g fill="none" stroke="#F8766D" stroke-width="0.55" stroke-linejoin="round">
<circle cx="57.2" cy="308.2" r="2.2"/>
<circle cx="62.1" cy="279.1" r="2.2"/>
<circle cx="70.2" cy="271.3" r="2.2"/>
<circle cx="82.7" cy="269.1" r="2.2"/>
<circle cx="97.3" cy="268.2" r="2.2"/>
<circle cx="108.1" cy="268.2" r="2.2"/>
<circle cx="117.6" cy="268.2" r="2.2"/>
<circle cx="125.7" cy="268.2" r="2.2"/>
<circle cx="132.7" cy="268.2" r="2.2"/>
<circle cx="138.9" cy="268.2" r="2.2"/>
<circle cx="144.8" cy="268.2" r="2.2"/>
<circle cx="149.8" cy="268.2" r="2.2"/>
<circle cx="154.4" cy="268.2" r="2.2"/>
<circle cx="158.8" cy="268.2" r="2.2"/>
<circle cx="162.5" cy="268.2" r="2.2"/>
<circle cx="166.1" cy="268.2" r="2.2"/>
<circle cx="170" cy="268.2" r="2.2"/>
<circle cx="173.4" cy="268.2" r="2.2"/>
<circle cx="177" cy="268.2" r="2.2"/>
<circle cx="180.1" cy="268.2" r="2.2"/>
<circle cx="183.2" cy="268.2" r="2.2"/>
<circle cx="186.3" cy="268.2" r="2.2"/>
<circle cx="189.4" cy="268.2" r="2.2"/>
<circle cx="192.5" cy="268.2" r="2.2"/>
<circle cx="195.3" cy="268.2" r="2.2"/>
<circle cx="198" cy="268.2" r="2.2"/>
<circle cx="200.8" cy="268.2" r="2.2"/>
<circle cx="203.4" cy="268.2" r="2.2"/>
<circle cx="206.1" cy="268.2" r="2.2"/>
<circle cx="208.9" cy="268.2" r="2.2"/>
<circle cx="211.5" cy="268.2" r="2.2"/>
<circle cx="214.3" cy="268.2" r="2.2"/>
<circle cx="216.6" cy="268.2" r="2.2"/>
<circle cx="219.4" cy="268.2" r="2.2"/>
</g>
<g fill="none" stroke="#CD9600" stroke-width="0.55" stroke-linejoin="round">
<path d="M57.2 305.47L59.83 310.02L54.57 310.02Z"/>
<path d="M62.1 276.37L64.73 280.92L59.47 280.92Z"/>
<path d="M70.2 268.57L72.83 273.12L67.57 273.12Z"/>
<path d="M82.7 266.37L85.33 270.92L80.07 270.92Z"/>
<path d="M97.3 265.47L99.93 270.02L94.67 270.02Z"/>
<path d="M108.1 265.47L110.73 270.02L105.47 270.02Z"/>
<path d="M117.6 265.47L120.23 270.02L114.97 270.02Z"/>
<path d="M125.7 265.47L128.33 270.02L123.07 270.02Z"/>
<path d="M132.7 265.47L135.33 270.02L130.07 270.02Z"/>
<path d="M138.9 265.47L141.53 270.02L136.27 270.02Z"/>
<path d="M144.8 265.47L147.43 270.02L142.17 270.02Z"/>
<path d="M149.8 265.47L152.43 270.02L147.17 270.02Z"/>
<path d="M154.4 265.47L157.03 270.02L151.77 270.02Z"/>
<path d="M158.8 265.47L161.43 270.02L156.17 270.02Z"/>
<path d="M162.5 265.47L165.13 270.02L159.87 270.02Z"/>
<path d="M166.1 265.47L168.73 270.02L163.47 270.02Z"/>
<path d="M170 265.47L172.63 270.02L167.37 270.02Z"/>
<path d="M173.4 265.47L176.03 270.02L170.77 270.02Z"/>
<path d="M177 265.47L179.63 270.02L174.37 270.02Z"/>
<path d="M180.1 265.47L182.73 270.02L177.47 270.02Z"/>
<path d="M183.2 265.47L185.83 270.02L180.57 270.02Z"/>
<path d="M186.3 265.47L188.93 270.02L183.67 270.02Z"/>
<path d="M189.4 265.47L192.03 270.02L186.77 270.02Z"/>
<path d="M192.5 265.47L195.13 270.02L189.87 270.02Z"/>
<path d="M195.3 265.47L197.93 270.02L192.67 270.02Z"/>
<path d="M198 265.47L200.63 270.02L195.37 270.02Z"/>
<path d="M200.8 265.47L203.43 270.02L198.17 270.02Z"/>
<path d="M203.4 265.47L206.03 270.02L200.77 270.02Z"/>
<path d="M206.1 265.47L208.73 270.02L203.47 270.02Z"/>
<path d="M208.9 265.47L211.53 270.02L206.27 270.02Z"/>
<path d="M211.5 265.47L214.13 270.02L208.87 270.02Z"/>
<path d="M214.3 265.47L216.93 270.02L211.67 270.02Z"/>
<path d="M216.6 265.47L219.23 270.02L213.97 270.02Z"/>
<path d="M219.4 265.47L222.03 270.02L216.77 270.02Z"/>
</g>
<g fill="none" stroke="#00BFC4" stroke-width="0.85" stroke-linejoin="round">
<path d="M57.2 305.3L59.9 308L57.2 310.7L54.5 308Z"/>
<path d="M62.1 276.1L64.8 278.8L62.1 281.5L59.4 278.8Z"/>
<path d="M70.2 268.3L72.9 271L70.2 273.7L67.5 271Z"/>
<path d="M82.7 266.2L85.4 268.9L82.7 271.6L80 268.9Z"/>
<path d="M97.3 265.3L100 268L97.3 270.7L94.6 268Z"/>
<path d="M108.1 265.3L110.8 268L108.1 270.7L105.4 268Z"/>
<path d="M117.6 265.3L120.3 268L117.6 270.7L114.9 268Z"/>
<path d="M125.7 265.3L128.4 268L125.7 270.7L123 268Z"/>
<path d="M132.7 265.3L135.4 268L132.7 270.7L130 268Z"/>
<path d="M138.9 265.3L141.6 268L138.9 270.7L136.2 268Z"/>
<path d="M144.8 265.3L147.5 268L144.8 270.7L142.1 268Z"/>
<path d="M149.8 265.3L152.5 268L149.8 270.7L147.1 268Z"/>
<path d="M154.4 265.3L157.1 268L154.4 270.7L151.7 268Z"/>
<path d="M158.8 265.3L161.5 268L158.8 270.7L156.1 268Z"/>
<path d="M162.5 265.3L165.2 268L162.5 270.7L159.8 268Z"/>
<path d="M166.1 265.3L168.8 268L166.1 270.7L163.4 268Z"/>
<path d="M170 265.3L172.7 268L170 270.7L167.3 268Z"/>
<path d="M173.4 265.3L176.1 268L173.4 270.7L170.7 268Z"/>
<path d="M177 265.3L179.7 268L177 270.7L174.3 268Z"/>
<path d="M180.1 265.3L182.8 268L180.1 270.7L177.4 268Z"/>
<path d="M183.2 265.3L185.9 268L183.2 270.7L180.5 268Z"/>
<path d="M186.3 265.3L189 268L186.3 270.7L183.6 268Z"/>
<path d="M189.4 265.3L192.1 268L189.4 270.7L186.7 268Z"/>
<path d="M192.5 265.3L195.2 268L192.5 270.7L189.8 268Z"/>
<path d="M195.3 265.3L198 268L195.3 270.7L192.6 268Z"/>
<path d="M198 265.3L200.7 268L198 270.7L195.3 268Z"/>
<path d="M200.8 265.3L203.5 268L200.8 270.7L198.1 268Z"/>
<path d="M203.4 265.3L206.1 268L203.4 270.7L200.7 268Z"/>
<path d="M206.1 265.3L208.8 268L206.1 270.7L203.4 268Z"/>
<path d="M208.9 265.3L211.6 268L208.9 270.7L206.2 268Z"/>
<path d="M211.5 265.3L214.2 268L211.5 270.7L208.8 268Z"/>
<path d="M214.3 265.3L217 268L214.3 270.7L211.6 268Z"/>
<path d="M216.6 265.3L219.3 268L216.6 270.7L213.9 268Z"/>
<path d="M219.4 265.3L222.1 268L219.4 270.7L216.7 268Z"/>
</g>
<g fill="none" stroke="#C77CFF" stroke-width="0.6" stroke-linejoin="round">
<path d="M55.5 302.3H59.7V306.5H55.5ZM55.5 302.3L59.7 306.5M55.5 306.5L59.7 302.3"/>
<path d="M60.3 289.17H64.5V293.37H60.3ZM60.3 289.17L64.5 293.37M60.3 293.37L64.5 289.17"/>
<path d="M69.9 286.68H74.1V290.88H69.9ZM69.9 286.68L74.1 290.88M69.9 290.88L74.1 286.68"/>
<path d="M81.2 286.2H85.4V290.4H81.2ZM81.2 286.2L85.4 290.4M81.2 290.4L85.4 286.2"/>
<path d="M91.7 286.2H95.9V290.4H91.7ZM91.7 286.2L95.9 290.4M91.7 290.4L95.9 286.2"/>
<path d="M97.7 286.27H101.9V290.47H97.7ZM97.7 286.27L101.9 290.47M97.7 290.47L101.9 286.27"/>
<path d="M101.1 286.31H105.3V290.51H101.1ZM101.1 286.31L105.3 290.51M101.1 290.51L105.3 286.31"/>
<path d="M103.1 286.34H107.3V290.54H103.1ZM103.1 286.34L107.3 290.54M103.1 290.54L107.3 286.34"/>
<path d="M104.5 286.36H108.7V290.56H104.5ZM104.5 286.36L108.7 290.56M104.5 290.56L108.7 286.36"/>
<path d="M105.5 286.37H109.7V290.57H105.5ZM105.5 286.37L109.7 290.57M105.5 290.57L109.7 286.37"/>
<path d="M106.3 286.38H110.5V290.58H106.3ZM106.3 286.38L110.5 290.58M106.3 290.58L110.5 286.38"/>
<path d="M106.9 286.39H111.1V290.59H106.9ZM106.9 286.39L111.1 290.59M106.9 290.59L111.1 286.39"/>
<path d="M107.4 286.39H111.6V290.59H107.4ZM107.4 286.39L111.6 290.59M107.4 290.59L111.6 286.39"/>
<path d="M107.8 286.4H112V290.6H107.8ZM107.8 286.4L112 290.6M107.8 290.6L112 286.4"/>
<path d="M108.1 286.4H112.3V290.6H108.1ZM108.1 286.4L112.3 290.6M108.1 290.6L112.3 286.4"/>
</g>
</g>
<g>
<g fill="none" stroke="#FF61CC" stroke-width="0.6" stroke-linejoin="round">
<path d="M237.7 255.3H243.3M240.5 252.5V258.1M238.5 253.3L242.5 257.3M238.5 257.3L242.5 253.3"/>
<path d="M242.3 228.2H247.9M245.1 225.4V231M243.1 226.2L247.1 230.2M243.1 230.2L247.1 226.2"/>
<path d="M253 223.3H258.6M255.8 220.5V226.1M253.8 221.3L257.8 225.3M253.8 225.3L257.8 221.3"/>
<path d="M270.7 221.5H276.3M273.5 218.7V224.3M271.5 219.5L275.5 223.5M271.5 223.5L275.5 219.5"/>
<path d="M297.3 221.5H302.9M300.1 218.7V224.3M298.1 219.5L302.1 223.5M298.1 223.5L302.1 219.5"/>
<path d="M324.9 221.5H330.5M327.7 218.7V224.3M325.7 219.5L329.7 223.5M325.7 223.5L329.7 219.5"/>
<path d="M343.9 221.5H349.5M346.7 218.7V224.3M344.7 219.5L348.7 223.5M344.7 223.5L348.7 219.5"/>
<path d="M354.6 221.59H360.2M357.4 218.79V224.39M355.4 219.59L359.4 223.59M355.4 223.59L359.4 219.59"/>
<path d="M359.7 221.63H365.3M362.5 218.83V224.43M360.5 219.63L364.5 223.63M360.5 223.63L364.5 219.63"/>
<path d="M362.6 221.66H368.2M365.4 218.86V224.46M363.4 219.66L367.4 223.66M363.4 223.66L367.4 219.66"/>
<path d="M364.1 221.67H369.7M366.9 218.87V224.47M364.9 219.67L368.9 223.67M364.9 223.67L368.9 219.67"/>
<path d="M365.1 221.68H370.7M367.9 218.88V224.48M365.9 219.68L369.9 223.68M365.9 223.68L369.9 219.68"/>
<path d="M365.6 221.68H371.2M368.4 218.88V224.48M366.4 219.68L370.4 223.68M366.4 223.68L370.4 219.68"/>
<path d="M365.9 221.68H371.5M368.7 218.88V224.48M366.7 219.68L370.7 223.68M366.7 223.68L370.7 219.68"/>
</g>
<g fill="none" stroke="#7CAE00" stroke-width="0.55" stroke-linejoin="round">
<path d="M237.5 269.4H243.5M240.5 266.4V272.4"/>
<path d="M238.1 232.5H244.1M241.1 229.5V235.5"/>
<path d="M241.9 219H247.9M244.9 216V222"/>
<path d="M248.5 213.5H254.5M251.5 210.5V216.5"/>
<path d="M255.4 209.6H261.4M258.4 206.6V212.6"/>
<path d="M261.4 207.4H267.4M264.4 204.4V210.4"/>
<path d="M267.5 206.1H273.5M270.5 203.1V209.1"/>
<path d="M273.7 205.2H279.7M276.7 202.2V208.2"/>
<path d="M279.3 204.66H285.3M282.3 201.66V207.66"/>
<path d="M283.7 204.38H289.7M286.7 201.38V207.38"/>
<path d="M288.1 204.2H294.1M291.1 201.2V207.2"/>
<path d="M292.8 204H298.8M295.8 201V207"/>
<path d="M297.3 203.81H303.3M300.3 200.81V206.81"/>
<path d="M301.6 203.69H307.6M304.6 200.69V206.69"/>
<path d="M305.7 203.66H311.7M308.7 200.66V206.66"/>
<path d="M309.2 203.64H315.2M312.2 200.64V206.64"/>
<path d="M312.1 203.62H318.1M315.1 200.62V206.62"/>
<path d="M315.1 203.6H321.1M318.1 200.6V206.6"/>
<path d="M318.1 203.58H324.1M321.1 200.58V206.58"/>
<path d="M320.6 203.56H326.6M323.6 200.56V206.56"/>
<path d="M323 203.54H329M326 200.54V206.54"/>
<path d="M325.5 203.53H331.5M328.5 200.53V206.53"/>
<path d="M327.5 203.51H333.5M330.5 200.51V206.51"/>
<path d="M329.5 203.5H335.5M332.5 200.5V206.5"/>
<path d="M331.5 203.49H337.5M334.5 200.49V206.49"/>
<path d="M333.4 203.47H339.4M336.4 200.47V206.47"/>
<path d="M335.4 203.46H341.4M338.4 200.46V206.46"/>
<path d="M336.9 203.45H342.9M339.9 200.45V206.45"/>
<path d="M338.4 203.44H344.4M341.4 200.44V206.44"/>
<path d="M339.9 203.43H345.9M342.9 200.43V206.43"/>
<path d="M341.4 203.42H347.4M344.4 200.42V206.42"/>
<path d="M342.3 203.41H348.3M345.3 200.41V206.41"/>
<path d="M343.1 203.41H349.1M346.1 200.41V206.41"/>
<path d="M343.8 203.4H349.8M346.8 200.4V206.4"/>
<path d="M344.4 203.4H350.4M347.4 200.4V206.4"/>
</g>
<g fill="none" stroke="#00BE67" stroke-width="0.55" stroke-linejoin="round">
<path d="M238.35 267.65L242.65 271.95M238.35 271.95L242.65 267.65"/>
<path d="M238.95 230.65L243.25 234.95M238.95 234.95L243.25 230.65"/>
<path d="M242.75 217.05L247.05 221.35M242.75 221.35L247.05 217.05"/>
<path d="M249.35 211.55L253.65 215.85M249.35 215.85L253.65 211.55"/>
<path d="M256.25 207.65L260.55 211.95M256.25 211.95L260.55 207.65"/>
<path d="M262.25 205.45L266.55 209.75M262.25 209.75L266.55 205.45"/>
<path d="M268.35 204.15L272.65 208.45M268.35 208.45L272.65 204.15"/>
<path d="M274.55 203.25L278.85 207.55M274.55 207.55L278.85 203.25"/>
<path d="M280.15 202.71L284.45 207.01M280.15 207.01L284.45 202.71"/>
<path d="M284.55 202.43L288.85 206.73M284.55 206.73L288.85 202.43"/>
<path d="M288.95 202.25L293.25 206.55M288.95 206.55L293.25 202.25"/>
<path d="M293.65 202.05L297.95 206.35M293.65 206.35L297.95 202.05"/>
<path d="M298.15 201.86L302.45 206.16M298.15 206.16L302.45 201.86"/>
<path d="M302.45 201.74L306.75 206.04M302.45 206.04L306.75 201.74"/>
<path d="M306.55 201.72L310.85 206.02M306.55 206.02L310.85 201.72"/>
<path d="M310.05 201.71L314.35 206.01M310.05 206.01L314.35 201.71"/>
<path d="M312.95 201.7L317.25 206M312.95 206L317.25 201.7"/>
<path d="M315.95 201.68L320.25 205.98M315.95 205.98L320.25 201.68"/>
<path d="M318.95 201.67L323.25 205.97M318.95 205.97L323.25 201.67"/>
<path d="M321.45 201.66L325.75 205.96M321.45 205.96L325.75 201.66"/>
<path d="M323.85 201.65L328.15 205.95M323.85 205.95L328.15 201.65"/>
<path d="M326.35 201.63L330.65 205.93M326.35 205.93L330.65 201.63"/>
<path d="M328.35 201.63L332.65 205.93M328.35 205.93L332.65 201.63"/>
<path d="M330.35 201.62L334.65 205.92M330.35 205.92L334.65 201.62"/>
<path d="M332.35 201.61L336.65 205.91M332.35 205.91L336.65 201.61"/>
<path d="M334.25 201.6L338.55 205.9M334.25 205.9L338.55 201.6"/>
<path d="M336.25 201.59L340.55 205.89M336.25 205.89L340.55 201.59"/>
<path d="M337.75 201.58L342.05 205.88M337.75 205.88L342.05 201.58"/>
<path d="M339.25 201.58L343.55 205.88M339.25 205.88L343.55 201.58"/>
<path d="M340.75 201.57L345.05 205.87M340.75 205.87L345.05 201.57"/>
<path d="M342.25 201.56L346.55 205.86M342.25 205.86L346.55 201.56"/>
<path d="M343.15 201.56L347.45 205.86M343.15 205.86L347.45 201.56"/>
<path d="M343.95 201.56L348.25 205.86M343.95 205.86L348.25 201.56"/>
<path d="M344.65 201.55L348.95 205.85M344.65 205.85L348.95 201.55"/>
<path d="M345.25 201.55L349.55 205.85M345.25 205.85L349.55 201.55"/>
</g>
<g fill="none" stroke="#00A9FF" stroke-width="0.55" stroke-linejoin="round">
<path d="M240.5 271.83L243.13 267.28L237.87 267.28Z"/>
<path d="M241.1 235.03L243.73 230.48L238.47 230.48Z"/>
<path d="M244.9 221.63L247.53 217.08L242.27 217.08Z"/>
<path d="M251.5 216.03L254.13 211.48L248.87 211.48Z"/>
<path d="M258.4 212.23L261.03 207.68L255.77 207.68Z"/>
<path d="M264.4 210.03L267.03 205.48L261.77 205.48Z"/>
<path d="M270.5 208.73L273.13 204.18L267.87 204.18Z"/>
<path d="M276.7 207.83L279.33 203.28L274.07 203.28Z"/>
<path d="M282.3 207.29L284.93 202.74L279.67 202.74Z"/>
<path d="M286.7 207.01L289.33 202.47L284.07 202.47Z"/>
<path d="M291.1 206.83L293.73 202.28L288.47 202.28Z"/>
<path d="M295.8 206.63L298.43 202.08L293.17 202.08Z"/>
<path d="M300.3 206.44L302.93 201.89L297.67 201.89Z"/>
<path d="M304.6 206.32L307.23 201.77L301.97 201.77Z"/>
<path d="M308.7 206.29L311.33 201.74L306.07 201.74Z"/>
<path d="M312.2 206.27L314.83 201.72L309.57 201.72Z"/>
<path d="M315.1 206.25L317.73 201.7L312.47 201.7Z"/>
<path d="M318.1 206.23L320.73 201.68L315.47 201.68Z"/>
<path d="M321.1 206.21L323.73 201.66L318.47 201.66Z"/>
<path d="M323.6 206.19L326.23 201.64L320.97 201.64Z"/>
<path d="M326 206.18L328.63 201.63L323.37 201.63Z"/>
<path d="M328.5 206.16L331.13 201.61L325.87 201.61Z"/>
<path d="M330.5 206.15L333.13 201.6L327.87 201.6Z"/>
<path d="M332.5 206.13L335.13 201.58L329.87 201.58Z"/>
<path d="M334.5 206.12L337.13 201.57L331.87 201.57Z"/>
<path d="M336.4 206.11L339.03 201.56L333.77 201.56Z"/>
<path d="M338.4 206.09L341.03 201.54L335.77 201.54Z"/>
<path d="M339.9 206.08L342.53 201.53L337.27 201.53Z"/>
<path d="M341.4 206.07L344.03 201.52L338.77 201.52Z"/>
<path d="M342.9 206.06L345.53 201.51L340.27 201.51Z"/>
<path d="M344.4 206.05L347.03 201.5L341.77 201.5Z"/>
<path d="M345.3 206.05L347.93 201.5L342.67 201.5Z"/>
<path d="M346.1 206.04L348.73 201.49L343.47 201.49Z"/>
<path d="M346.8 206.04L349.43 201.49L344.17 201.49Z"/>
<path d="M347.4 206.03L350.03 201.48L344.77 201.48Z"/>
</g>
<g fill="none" stroke="#F8766D" stroke-width="0.55" stroke-linejoin="round">
<circle cx="240.1" cy="255.3" r="2.2"/>
<circle cx="245" cy="208.8" r="2.2"/>
<circle cx="253.1" cy="201" r="2.2"/>
<circle cx="265.6" cy="200.3" r="2.2"/>
<circle cx="280.2" cy="201.4" r="2.2"/>
<circle cx="291" cy="201.7" r="2.2"/>
<circle cx="300.5" cy="202.03" r="2.2"/>
<circle cx="308.6" cy="202.31" r="2.2"/>
<circle cx="315.6" cy="202.55" r="2.2"/>
<circle cx="321.8" cy="202.76" r="2.2"/>
<circle cx="327.7" cy="202.91" r="2.2"/>
<circle cx="332.7" cy="203.03" r="2.2"/>
<circle cx="337.3" cy="203.14" r="2.2"/>
<circle cx="341.7" cy="203.24" r="2.2"/>
<circle cx="345.4" cy="203.32" r="2.2"/>
<circle cx="349" cy="203.41" r="2.2"/>
<circle cx="352.9" cy="203.5" r="2.2"/>
<circle cx="356.3" cy="203.56" r="2.2"/>
<circle cx="359.9" cy="203.61" r="2.2"/>
<circle cx="363" cy="203.66" r="2.2"/>
<circle cx="366.1" cy="203.71" r="2.2"/>
<circle cx="369.2" cy="203.76" r="2.2"/>
<circle cx="372.3" cy="203.81" r="2.2"/>
<circle cx="375.4" cy="203.86" r="2.2"/>
<circle cx="378.2" cy="203.91" r="2.2"/>
<circle cx="380.9" cy="203.95" r="2.2"/>
<circle cx="383.7" cy="204" r="2.2"/>
<circle cx="386.3" cy="204.04" r="2.2"/>
<circle cx="389" cy="204.08" r="2.2"/>
<circle cx="391.8" cy="204.13" r="2.2"/>
<circle cx="394.4" cy="204.17" r="2.2"/>
<circle cx="397.2" cy="204.22" r="2.2"/>
<circle cx="399.5" cy="204.25" r="2.2"/>
<circle cx="402.3" cy="204.3" r="2.2"/>
</g>
<g fill="none" stroke="#CD9600" stroke-width="0.55" stroke-linejoin="round">
<path d="M240.1 252.57L242.73 257.12L237.47 257.12Z"/>
<path d="M245 206.07L247.63 210.62L242.37 210.62Z"/>
<path d="M253.1 198.27L255.73 202.82L250.47 202.82Z"/>
<path d="M265.6 197.57L268.23 202.12L262.97 202.12Z"/>
<path d="M280.2 198.67L282.83 203.22L277.57 203.22Z"/>
<path d="M291 198.97L293.63 203.52L288.37 203.52Z"/>
<path d="M300.5 199.3L303.13 203.84L297.87 203.84Z"/>
<path d="M308.6 199.57L311.23 204.12L305.97 204.12Z"/>
<path d="M315.6 199.82L318.23 204.36L312.97 204.36Z"/>
<path d="M321.8 200.03L324.43 204.58L319.17 204.58Z"/>
<path d="M327.7 200.18L330.33 204.73L325.07 204.73Z"/>
<path d="M332.7 200.3L335.33 204.84L330.07 204.84Z"/>
<path d="M337.3 200.4L339.93 204.95L334.67 204.95Z"/>
<path d="M341.7 200.51L344.33 205.05L339.07 205.05Z"/>
<path d="M345.4 200.59L348.03 205.14L342.77 205.14Z"/>
<path d="M349 200.68L351.63 205.23L346.37 205.23Z"/>
<path d="M352.9 200.77L355.53 205.32L350.27 205.32Z"/>
<path d="M356.3 200.82L358.93 205.37L353.67 205.37Z"/>
<path d="M359.9 200.88L362.53 205.43L357.27 205.43Z"/>
<path d="M363 200.93L365.63 205.48L360.37 205.48Z"/>
<path d="M366.1 200.98L368.73 205.53L363.47 205.53Z"/>
<path d="M369.2 201.03L371.83 205.58L366.57 205.58Z"/>
<path d="M372.3 201.08L374.93 205.63L369.67 205.63Z"/>
<path d="M375.4 201.13L378.03 205.68L372.77 205.68Z"/>
<path d="M378.2 201.18L380.83 205.73L375.57 205.73Z"/>
<path d="M380.9 201.22L383.53 205.77L378.27 205.77Z"/>
<path d="M383.7 201.27L386.33 205.82L381.07 205.82Z"/>
<path d="M386.3 201.31L388.93 205.86L383.67 205.86Z"/>
<path d="M389 201.35L391.63 205.9L386.37 205.9Z"/>
<path d="M391.8 201.4L394.43 205.95L389.17 205.95Z"/>
<path d="M394.4 201.44L397.03 205.99L391.77 205.99Z"/>
<path d="M397.2 201.49L399.83 206.03L394.57 206.03Z"/>
<path d="M399.5 201.52L402.13 206.07L396.87 206.07Z"/>
<path d="M402.3 201.57L404.93 206.12L399.67 206.12Z"/>
</g>
<g fill="none" stroke="#00BFC4" stroke-width="0.85" stroke-linejoin="round">
<path d="M240.1 252.4L242.8 255.1L240.1 257.8L237.4 255.1Z"/>
<path d="M245 205.8L247.7 208.5L245 211.2L242.3 208.5Z"/>
<path d="M253.1 198L255.8 200.7L253.1 203.4L250.4 200.7Z"/>
<path d="M265.6 197.3L268.3 200L265.6 202.7L262.9 200Z"/>
<path d="M280.2 198.4L282.9 201.1L280.2 203.8L277.5 201.1Z"/>
<path d="M291 198.7L293.7 201.4L291 204.1L288.3 201.4Z"/>
<path d="M300.5 199.03L303.2 201.73L300.5 204.43L297.8 201.73Z"/>
<path d="M308.6 199.31L311.3 202.01L308.6 204.71L305.9 202.01Z"/>
<path d="M315.6 199.55L318.3 202.25L315.6 204.95L312.9 202.25Z"/>
<path d="M321.8 199.76L324.5 202.46L321.8 205.16L319.1 202.46Z"/>
<path d="M327.7 199.91L330.4 202.61L327.7 205.31L325 202.61Z"/>
<path d="M332.7 200.03L335.4 202.73L332.7 205.43L330 202.73Z"/>
<path d="M337.3 200.14L340 202.84L337.3 205.54L334.6 202.84Z"/>
<path d="M341.7 200.24L344.4 202.94L341.7 205.64L339 202.94Z"/>
<path d="M345.4 200.32L348.1 203.02L345.4 205.72L342.7 203.02Z"/>
<path d="M349 200.41L351.7 203.11L349 205.81L346.3 203.11Z"/>
<path d="M352.9 200.5L355.6 203.2L352.9 205.9L350.2 203.2Z"/>
<path d="M356.3 200.56L359 203.26L356.3 205.96L353.6 203.26Z"/>
<path d="M359.9 200.61L362.6 203.31L359.9 206.01L357.2 203.31Z"/>
<path d="M363 200.66L365.7 203.36L363 206.06L360.3 203.36Z"/>
<path d="M366.1 200.71L368.8 203.41L366.1 206.11L363.4 203.41Z"/>
<path d="M369.2 200.76L371.9 203.46L369.2 206.16L366.5 203.46Z"/>
<path d="M372.3 200.81L375 203.51L372.3 206.21L369.6 203.51Z"/>
<path d="M375.4 200.86L378.1 203.56L375.4 206.26L372.7 203.56Z"/>
<path d="M378.2 200.91L380.9 203.61L378.2 206.31L375.5 203.61Z"/>
<path d="M380.9 200.95L383.6 203.65L380.9 206.35L378.2 203.65Z"/>
<path d="M383.7 201L386.4 203.7L383.7 206.4L381 203.7Z"/>
<path d="M386.3 201.04L389 203.74L386.3 206.44L383.6 203.74Z"/>
<path d="M389 201.08L391.7 203.78L389 206.48L386.3 203.78Z"/>
<path d="M391.8 201.13L394.5 203.83L391.8 206.53L389.1 203.83Z"/>
<path d="M394.4 201.17L397.1 203.87L394.4 206.57L391.7 203.87Z"/>
<path d="M397.2 201.22L399.9 203.92L397.2 206.62L394.5 203.92Z"/>
<path d="M399.5 201.25L402.2 203.95L399.5 206.65L396.8 203.95Z"/>
<path d="M402.3 201.3L405 204L402.3 206.7L399.6 204Z"/>
</g>
<g fill="none" stroke="#C77CFF" stroke-width="0.6" stroke-linejoin="round">
<path d="M238.4 259.3H242.6V263.5H238.4ZM238.4 259.3L242.6 263.5M238.4 263.5L242.6 259.3"/>
<path d="M243.2 239.51H247.4V243.71H243.2ZM243.2 239.51L247.4 243.71M243.2 243.71L247.4 239.51"/>
<path d="M252.8 236.18H257V240.38H252.8ZM252.8 236.18L257 240.38M252.8 240.38L257 236.18"/>
<path d="M264.1 235.8H268.3V240H264.1ZM264.1 235.8L268.3 240M264.1 240L268.3 235.8"/>
<path d="M274.6 235.9H278.8V240.1H274.6ZM274.6 235.9L278.8 240.1M274.6 240.1L278.8 235.9"/>
<path d="M280.6 236.08H284.8V240.28H280.6ZM280.6 236.08L284.8 240.28M280.6 240.28L284.8 236.08"/>
<path d="M284 236.19H288.2V240.39H284ZM284 236.19L288.2 240.39M284 240.39L288.2 236.19"/>
<path d="M286 236.25H290.2V240.45H286ZM286 236.25L290.2 240.45M286 240.45L290.2 236.25"/>
<path d="M287.4 236.29H291.6V240.49H287.4ZM287.4 236.29L291.6 240.49M287.4 240.49L291.6 236.29"/>
<path d="M288.4 236.32H292.6V240.52H288.4ZM288.4 236.32L292.6 240.52M288.4 240.52L292.6 236.32"/>
<path d="M289.2 236.35H293.4V240.55H289.2ZM289.2 236.35L293.4 240.55M289.2 240.55L293.4 236.35"/>
<path d="M289.8 236.36H294V240.56H289.8ZM289.8 236.36L294 240.56M289.8 240.56L294 236.36"/>
<path d="M290.3 236.38H294.5V240.58H290.3ZM290.3 236.38L294.5 240.58M290.3 240.58L294.5 236.38"/>
<path d="M290.7 236.39H294.9V240.59H290.7ZM290.7 236.39L294.9 240.59M290.7 240.59L294.9 236.39"/>
<path d="M291 236.4H295.2V240.6H291ZM291 236.4L295.2 240.6M291 240.6L295.2 236.4"/>
</g>
</g>
<g>
<g fill="none" stroke="#FF61CC" stroke-width="0.6" stroke-linejoin="round">
<path d="M420.6 246.4H426.2M423.4 243.6V249.2M421.4 244.4L425.4 248.4M421.4 248.4L425.4 244.4"/>
<path d="M425.2 236.1H430.8M428 233.3V238.9M426 234.1L430 238.1M426 238.1L430 234.1"/>
<path d="M435.9 233.4H441.5M438.7 230.6V236.2M436.7 231.4L440.7 235.4M436.7 235.4L440.7 231.4"/>
<path d="M453.6 232.7H459.2M456.4 229.9V235.5M454.4 230.7L458.4 234.7M454.4 234.7L458.4 230.7"/>
<path d="M480.2 232.7H485.8M483 229.9V235.5M481 230.7L485 234.7M481 234.7L485 230.7"/>
<path d="M507.8 232.7H513.4M510.6 229.9V235.5M508.6 230.7L512.6 234.7M508.6 234.7L512.6 230.7"/>
<path d="M526.8 232.7H532.4M529.6 229.9V235.5M527.6 230.7L531.6 234.7M527.6 234.7L531.6 230.7"/>
<path d="M537.5 232.79H543.1M540.3 229.99V235.59M538.3 230.79L542.3 234.79M538.3 234.79L542.3 230.79"/>
<path d="M542.6 232.83H548.2M545.4 230.03V235.63M543.4 230.83L547.4 234.83M543.4 234.83L547.4 230.83"/>
<path d="M545.5 232.86H551.1M548.3 230.06V235.66M546.3 230.86L550.3 234.86M546.3 234.86L550.3 230.86"/>
<path d="M547 232.87H552.6M549.8 230.07V235.67M547.8 230.87L551.8 234.87M547.8 234.87L551.8 230.87"/>
<path d="M548 232.88H553.6M550.8 230.08V235.68M548.8 230.88L552.8 234.88M548.8 234.88L552.8 230.88"/>
<path d="M548.5 232.88H554.1M551.3 230.08V235.68M549.3 230.88L553.3 234.88M549.3 234.88L553.3 230.88"/>
<path d="M548.8 232.88H554.4M551.6 230.08V235.68M549.6 230.88L553.6 234.88M549.6 234.88L553.6 230.88"/>
</g>
<g fill="none" stroke="#7CAE00" stroke-width="0.55" stroke-linejoin="round">
<path d="M420.4 252.6H426.4M423.4 249.6V255.6"/>
<path d="M421 235.2H427M424 232.2V238.2"/>
<path d="M424.8 229.8H430.8M427.8 226.8V232.8"/>
<path d="M431.4 228H437.4M434.4 225V231"/>
<path d="M438.3 227.3H444.3M441.3 224.3V230.3"/>
<path d="M444.3 226.9H450.3M447.3 223.9V229.9"/>
<path d="M450.4 226.5H456.4M453.4 223.5V229.5"/>
<path d="M456.6 226.2H462.6M459.6 223.2V229.2"/>
<path d="M462.2 226.07H468.2M465.2 223.07V229.07"/>
<path d="M466.6 225.97H472.6M469.6 222.97V228.97"/>
<path d="M471 225.87H477M474 222.87V228.87"/>
<path d="M475.7 225.76H481.7M478.7 222.76V228.76"/>
<path d="M480.2 225.66H486.2M483.2 222.66V228.66"/>
<path d="M484.5 225.59H490.5M487.5 222.59V228.59"/>
<path d="M488.6 225.56H494.6M491.6 222.56V228.56"/>
<path d="M492.1 225.54H498.1M495.1 222.54V228.54"/>
<path d="M495 225.52H501M498 222.52V228.52"/>
<path d="M498 225.5H504M501 222.5V228.5"/>
<path d="M501 225.48H507M504 222.48V228.48"/>
<path d="M503.5 225.46H509.5M506.5 222.46V228.46"/>
<path d="M505.9 225.44H511.9M508.9 222.44V228.44"/>
<path d="M508.4 225.43H514.4M511.4 222.43V228.43"/>
<path d="M510.4 225.41H516.4M513.4 222.41V228.41"/>
<path d="M512.4 225.4H518.4M515.4 222.4V228.4"/>
<path d="M514.4 225.39H520.4M517.4 222.39V228.39"/>
<path d="M516.3 225.37H522.3M519.3 222.37V228.37"/>
<path d="M518.3 225.36H524.3M521.3 222.36V228.36"/>
<path d="M519.8 225.35H525.8M522.8 222.35V228.35"/>
<path d="M521.3 225.34H527.3M524.3 222.34V228.34"/>
<path d="M522.8 225.33H528.8M525.8 222.33V228.33"/>
<path d="M524.3 225.32H530.3M527.3 222.32V228.32"/>
<path d="M525.2 225.31H531.2M528.2 222.31V228.31"/>
<path d="M526 225.31H532M529 222.31V228.31"/>
<path d="M526.7 225.3H532.7M529.7 222.3V228.3"/>
<path d="M527.3 225.3H533.3M530.3 222.3V228.3"/>
</g>
<g fill="none" stroke="#00BE67" stroke-width="0.55" stroke-linejoin="round">
<path d="M421.25 250.85L425.55 255.15M421.25 255.15L425.55 250.85"/>
<path d="M421.85 233.35L426.15 237.65M421.85 237.65L426.15 233.35"/>
<path d="M425.65 227.85L429.95 232.15M425.65 232.15L429.95 227.85"/>
<path d="M432.25 226.05L436.55 230.35M432.25 230.35L436.55 226.05"/>
<path d="M439.15 225.35L443.45 229.65M439.15 229.65L443.45 225.35"/>
<path d="M445.15 224.95L449.45 229.25M445.15 229.25L449.45 224.95"/>
<path d="M451.25 224.55L455.55 228.85M451.25 228.85L455.55 224.55"/>
<path d="M457.45 224.25L461.75 228.55M457.45 228.55L461.75 224.25"/>
<path d="M463.05 224.14L467.35 228.44M463.05 228.44L467.35 224.14"/>
<path d="M467.45 224.06L471.75 228.36M467.45 228.36L471.75 224.06"/>
<path d="M471.85 223.98L476.15 228.28M471.85 228.28L476.15 223.98"/>
<path d="M476.55 223.89L480.85 228.19M476.55 228.19L480.85 223.89"/>
<path d="M481.05 223.8L485.35 228.1M481.05 228.1L485.35 223.8"/>
<path d="M485.35 223.74L489.65 228.04M485.35 228.04L489.65 223.74"/>
<path d="M489.45 223.71L493.75 228.01M489.45 228.01L493.75 223.71"/>
<path d="M492.95 223.69L497.25 227.99M492.95 227.99L497.25 223.69"/>
<path d="M495.85 223.67L500.15 227.97M495.85 227.97L500.15 223.67"/>
<path d="M498.85 223.65L503.15 227.95M498.85 227.95L503.15 223.65"/>
<path d="M501.85 223.63L506.15 227.93M501.85 227.93L506.15 223.63"/>
<path d="M504.35 223.61L508.65 227.91M504.35 227.91L508.65 223.61"/>
<path d="M506.75 223.59L511.05 227.89M506.75 227.89L511.05 223.59"/>
<path d="M509.25 223.58L513.55 227.88M509.25 227.88L513.55 223.58"/>
<path d="M511.25 223.56L515.55 227.86M511.25 227.86L515.55 223.56"/>
<path d="M513.25 223.55L517.55 227.85M513.25 227.85L517.55 223.55"/>
<path d="M515.25 223.54L519.55 227.84M515.25 227.84L519.55 223.54"/>
<path d="M517.15 223.52L521.45 227.82M517.15 227.82L521.45 223.52"/>
<path d="M519.15 223.51L523.45 227.81M519.15 227.81L523.45 223.51"/>
<path d="M520.65 223.5L524.95 227.8M520.65 227.8L524.95 223.5"/>
<path d="M522.15 223.49L526.45 227.79M522.15 227.79L526.45 223.49"/>
<path d="M523.65 223.48L527.95 227.78M523.65 227.78L527.95 223.48"/>
<path d="M525.15 223.47L529.45 227.77M525.15 227.77L529.45 223.47"/>
<path d="M526.05 223.46L530.35 227.76M526.05 227.76L530.35 223.46"/>
<path d="M526.85 223.46L531.15 227.76M526.85 227.76L531.15 223.46"/>
<path d="M527.55 223.45L531.85 227.75M527.55 227.75L531.85 223.45"/>
<path d="M528.15 223.45L532.45 227.75M528.15 227.75L532.45 223.45"/>
</g>
<g fill="none" stroke="#00A9FF" stroke-width="0.55" stroke-linejoin="round">
<path d="M423.4 255.23L426.03 250.68L420.77 250.68Z"/>
<path d="M424 237.83L426.63 233.28L421.37 233.28Z"/>
<path d="M427.8 232.43L430.43 227.88L425.17 227.88Z"/>
<path d="M434.4 230.63L437.03 226.08L431.77 226.08Z"/>
<path d="M441.3 229.93L443.93 225.38L438.67 225.38Z"/>
<path d="M447.3 229.53L449.93 224.98L444.67 224.98Z"/>
<path d="M453.4 229.13L456.03 224.58L450.77 224.58Z"/>
<path d="M459.6 228.83L462.23 224.28L456.97 224.28Z"/>
<path d="M465.2 228.68L467.83 224.13L462.57 224.13Z"/>
<path d="M469.6 228.57L472.23 224.02L466.97 224.02Z"/>
<path d="M474 228.45L476.63 223.9L471.37 223.9Z"/>
<path d="M478.7 228.32L481.33 223.77L476.07 223.77Z"/>
<path d="M483.2 228.2L485.83 223.65L480.57 223.65Z"/>
<path d="M487.5 228.12L490.13 223.57L484.87 223.57Z"/>
<path d="M491.6 228.08L494.23 223.53L488.97 223.53Z"/>
<path d="M495.1 228.05L497.73 223.5L492.47 223.5Z"/>
<path d="M498 228.02L500.63 223.47L495.37 223.47Z"/>
<path d="M501 228L503.63 223.45L498.37 223.45Z"/>
<path d="M504 227.97L506.63 223.42L501.37 223.42Z"/>
<path d="M506.5 227.95L509.13 223.4L503.87 223.4Z"/>
<path d="M508.9 227.92L511.53 223.38L506.27 223.38Z"/>
<path d="M511.4 227.9L514.03 223.35L508.77 223.35Z"/>
<path d="M513.4 227.88L516.03 223.34L510.77 223.34Z"/>
<path d="M515.4 227.87L518.03 223.32L512.77 223.32Z"/>
<path d="M517.4 227.85L520.03 223.3L514.77 223.3Z"/>
<path d="M519.3 227.83L521.93 223.28L516.67 223.28Z"/>
<path d="M521.3 227.81L523.93 223.26L518.67 223.26Z"/>
<path d="M522.8 227.8L525.43 223.25L520.17 223.25Z"/>
<path d="M524.3 227.79L526.93 223.24L521.67 223.24Z"/>
<path d="M525.8 227.77L528.43 223.22L523.17 223.22Z"/>
<path d="M527.3 227.76L529.93 223.21L524.67 223.21Z"/>
<path d="M528.2 227.75L530.83 223.2L525.57 223.2Z"/>
<path d="M529 227.74L531.63 223.2L526.37 223.2Z"/>
<path d="M529.7 227.74L532.33 223.19L527.07 223.19Z"/>
<path d="M530.3 227.73L532.93 223.18L527.67 223.18Z"/>
</g>
<g fill="none" stroke="#F8766D" stroke-width="0.55" stroke-linejoin="round">
<circle cx="423" cy="246.1" r="2.2"/>
<circle cx="427.9" cy="227.3" r="2.2"/>
<circle cx="436" cy="223.8" r="2.2"/>
<circle cx="448.5" cy="222.6" r="2.2"/>
<circle cx="463.1" cy="222.2" r="2.2"/>
<circle cx="473.9" cy="222.18" r="2.2"/>
<circle cx="483.4" cy="222.17" r="2.2"/>
<circle cx="491.5" cy="222.15" r="2.2"/>
<circle cx="498.5" cy="222.14" r="2.2"/>
<circle cx="504.7" cy="222.13" r="2.2"/>
<circle cx="510.6" cy="222.12" r="2.2"/>
<circle cx="515.6" cy="222.11" r="2.2"/>
<circle cx="520.2" cy="222.11" r="2.2"/>
<circle cx="524.6" cy="222.1" r="2.2"/>
<circle cx="528.3" cy="222.09" r="2.2"/>
<circle cx="531.9" cy="222.09" r="2.2"/>
<circle cx="535.8" cy="222.08" r="2.2"/>
<circle cx="539.2" cy="222.08" r="2.2"/>
<circle cx="542.8" cy="222.07" r="2.2"/>
<circle cx="545.9" cy="222.06" r="2.2"/>
<circle cx="549" cy="222.06" r="2.2"/>
<circle cx="552.1" cy="222.05" r="2.2"/>
<circle cx="555.2" cy="222.05" r="2.2"/>
<circle cx="558.3" cy="222.04" r="2.2"/>
<circle cx="561.1" cy="222.04" r="2.2"/>
<circle cx="563.8" cy="222.04" r="2.2"/>
<circle cx="566.6" cy="222.03" r="2.2"/>
<circle cx="569.2" cy="222.03" r="2.2"/>
<circle cx="571.9" cy="222.02" r="2.2"/>
<circle cx="574.7" cy="222.02" r="2.2"/>
<circle cx="577.3" cy="222.01" r="2.2"/>
<circle cx="580.1" cy="222.01" r="2.2"/>
<circle cx="582.4" cy="222" r="2.2"/>
<circle cx="585.2" cy="222" r="2.2"/>
</g>
<g fill="none" stroke="#CD9600" stroke-width="0.55" stroke-linejoin="round">
<path d="M423 243.37L425.63 247.92L420.37 247.92Z"/>
<path d="M427.9 224.57L430.53 229.12L425.27 229.12Z"/>
<path d="M436 221.07L438.63 225.62L433.37 225.62Z"/>
<path d="M448.5 219.87L451.13 224.42L445.87 224.42Z"/>
<path d="M463.1 219.47L465.73 224.02L460.47 224.02Z"/>
<path d="M473.9 219.45L476.53 224L471.27 224Z"/>
<path d="M483.4 219.43L486.03 223.98L480.77 223.98Z"/>
<path d="M491.5 219.42L494.13 223.97L488.87 223.97Z"/>
<path d="M498.5 219.41L501.13 223.96L495.87 223.96Z"/>
<path d="M504.7 219.4L507.33 223.95L502.07 223.95Z"/>
<path d="M510.6 219.39L513.23 223.94L507.97 223.94Z"/>
<path d="M515.6 219.38L518.23 223.93L512.97 223.93Z"/>
<path d="M520.2 219.37L522.83 223.92L517.57 223.92Z"/>
<path d="M524.6 219.37L527.23 223.92L521.97 223.92Z"/>
<path d="M528.3 219.36L530.93 223.91L525.67 223.91Z"/>
<path d="M531.9 219.36L534.53 223.9L529.27 223.9Z"/>
<path d="M535.8 219.35L538.43 223.9L533.17 223.9Z"/>
<path d="M539.2 219.34L541.83 223.89L536.57 223.89Z"/>
<path d="M542.8 219.34L545.43 223.89L540.17 223.89Z"/>
<path d="M545.9 219.33L548.53 223.88L543.27 223.88Z"/>
<path d="M549 219.33L551.63 223.88L546.37 223.88Z"/>
<path d="M552.1 219.32L554.73 223.87L549.47 223.87Z"/>
<path d="M555.2 219.32L557.83 223.87L552.57 223.87Z"/>
<path d="M558.3 219.31L560.93 223.86L555.67 223.86Z"/>
<path d="M561.1 219.31L563.73 223.86L558.47 223.86Z"/>
<path d="M563.8 219.3L566.43 223.85L561.17 223.85Z"/>
<path d="M566.6 219.3L569.23 223.85L563.97 223.85Z"/>
<path d="M569.2 219.29L571.83 223.84L566.57 223.84Z"/>
<path d="M571.9 219.29L574.53 223.84L569.27 223.84Z"/>
<path d="M574.7 219.28L577.33 223.83L572.07 223.83Z"/>
<path d="M577.3 219.28L579.93 223.83L574.67 223.83Z"/>
<path d="M580.1 219.28L582.73 223.82L577.47 223.82Z"/>
<path d="M582.4 219.27L585.03 223.82L579.77 223.82Z"/>
<path d="M585.2 219.27L587.83 223.82L582.57 223.82Z"/>
</g>
<g fill="none" stroke="#00BFC4" stroke-width="0.85" stroke-linejoin="round">
<path d="M423 243.2L425.7 245.9L423 248.6L420.3 245.9Z"/>
<path d="M427.9 224.3L430.6 227L427.9 229.7L425.2 227Z"/>
<path d="M436 220.8L438.7 223.5L436 226.2L433.3 223.5Z"/>
<path d="M448.5 219.6L451.2 222.3L448.5 225L445.8 222.3Z"/>
<path d="M463.1 219.2L465.8 221.9L463.1 224.6L460.4 221.9Z"/>
<path d="M473.9 219.19L476.6 221.89L473.9 224.59L471.2 221.89Z"/>
<path d="M483.4 219.18L486.1 221.88L483.4 224.58L480.7 221.88Z"/>
<path d="M491.5 219.18L494.2 221.88L491.5 224.58L488.8 221.88Z"/>
<path d="M498.5 219.17L501.2 221.87L498.5 224.57L495.8 221.87Z"/>
<path d="M504.7 219.17L507.4 221.87L504.7 224.57L502 221.87Z"/>
<path d="M510.6 219.16L513.3 221.86L510.6 224.56L507.9 221.86Z"/>
<path d="M515.6 219.16L518.3 221.86L515.6 224.56L512.9 221.86Z"/>
<path d="M520.2 219.15L522.9 221.85L520.2 224.55L517.5 221.85Z"/>
<path d="M524.6 219.15L527.3 221.85L524.6 224.55L521.9 221.85Z"/>
<path d="M528.3 219.15L531 221.85L528.3 224.55L525.6 221.85Z"/>
<path d="M531.9 219.14L534.6 221.84L531.9 224.54L529.2 221.84Z"/>
<path d="M535.8 219.14L538.5 221.84L535.8 224.54L533.1 221.84Z"/>
<path d="M539.2 219.14L541.9 221.84L539.2 224.54L536.5 221.84Z"/>
<path d="M542.8 219.13L545.5 221.83L542.8 224.53L540.1 221.83Z"/>
<path d="M545.9 219.13L548.6 221.83L545.9 224.53L543.2 221.83Z"/>
<path d="M549 219.13L551.7 221.83L549 224.53L546.3 221.83Z"/>
<path d="M552.1 219.13L554.8 221.83L552.1 224.53L549.4 221.83Z"/>
<path d="M555.2 219.12L557.9 221.82L555.2 224.52L552.5 221.82Z"/>
<path d="M558.3 219.12L561 221.82L558.3 224.52L555.6 221.82Z"/>
<path d="M561.1 219.12L563.8 221.82L561.1 224.52L558.4 221.82Z"/>
<path d="M563.8 219.12L566.5 221.82L563.8 224.52L561.1 221.82Z"/>
<path d="M566.6 219.12L569.3 221.82L566.6 224.52L563.9 221.82Z"/>
<path d="M569.2 219.11L571.9 221.81L569.2 224.51L566.5 221.81Z"/>
<path d="M571.9 219.11L574.6 221.81L571.9 224.51L569.2 221.81Z"/>
<path d="M574.7 219.11L577.4 221.81L574.7 224.51L572 221.81Z"/>
<path d="M577.3 219.11L580 221.81L577.3 224.51L574.6 221.81Z"/>
<path d="M580.1 219.1L582.8 221.8L580.1 224.5L577.4 221.8Z"/>
<path d="M582.4 219.1L585.1 221.8L582.4 224.5L579.7 221.8Z"/>
<path d="M585.2 219.1L587.9 221.8L585.2 224.5L582.5 221.8Z"/>
</g>
<g fill="none" stroke="#C77CFF" stroke-width="0.6" stroke-linejoin="round">
<path d="M421.3 245.4H425.5V249.6H421.3ZM421.3 245.4L425.5 249.6M421.3 249.6L425.5 245.4"/>
<path d="M426.1 241.48H430.3V245.68H426.1ZM426.1 241.48L430.3 245.68M426.1 245.68L430.3 241.48"/>
<path d="M435.7 239.58H439.9V243.78H435.7ZM435.7 239.58L439.9 243.78M435.7 243.78L439.9 239.58"/>
<path d="M447 239.1H451.2V243.3H447ZM447 239.1L451.2 243.3M447 243.3L451.2 239.1"/>
<path d="M457.5 239.1H461.7V243.3H457.5ZM457.5 239.1L461.7 243.3M457.5 243.3L461.7 239.1"/>
<path d="M463.5 239.28H467.7V243.48H463.5ZM463.5 239.28L467.7 243.48M463.5 243.48L467.7 239.28"/>
<path d="M466.9 239.39H471.1V243.59H466.9ZM466.9 239.39L471.1 243.59M466.9 243.59L471.1 239.39"/>
<path d="M468.9 239.45H473.1V243.65H468.9ZM468.9 239.45L473.1 243.65M468.9 243.65L473.1 239.45"/>
<path d="M470.3 239.49H474.5V243.69H470.3ZM470.3 239.49L474.5 243.69M470.3 243.69L474.5 239.49"/>
<path d="M471.3 239.52H475.5V243.72H471.3ZM471.3 239.52L475.5 243.72M471.3 243.72L475.5 239.52"/>
<path d="M472.1 239.55H476.3V243.75H472.1ZM472.1 239.55L476.3 243.75M472.1 243.75L476.3 239.55"/>
<path d="M472.7 239.56H476.9V243.76H472.7ZM472.7 239.56L476.9 243.76M472.7 243.76L476.9 239.56"/>
<path d="M473.2 239.58H477.4V243.78H473.2ZM473.2 239.58L477.4 243.78M473.2 243.78L477.4 239.58"/>
<path d="M473.6 239.59H477.8V243.79H473.6ZM473.6 239.59L477.8 243.79M473.6 243.79L477.8 239.59"/>
<path d="M473.9 239.6H478.1V243.8H473.9ZM473.9 239.6L478.1 243.8M473.9 243.8L478.1 239.6"/>
</g>
</g>
<text x="604.0" y="131.8" font-size="16.55" fill="#000">Algorithm</text>
<g fill="none" stroke="#F8766D" stroke-width="0.6" stroke-linejoin="round"><circle cx="608.6" cy="148.6" r="2.2"/></g>
<text x="622.1" y="153.4" font-size="13.45" fill="#000">HKEMct</text>
<g fill="none" stroke="#CD9600" stroke-width="0.6" stroke-linejoin="round"><path d="M608.6 158.77L611.23 163.32L605.97 163.32Z"/></g>
<text x="622.1" y="166.6" font-size="13.45" fill="#000">HKEMspect</text>
<g fill="none" stroke="#7CAE00" stroke-width="0.6" stroke-linejoin="round"><path d="M605.6 174.8H611.6M608.6 171.8V177.8"/></g>
<text x="622.1" y="179.6" font-size="13.45" fill="#000">KEMct</text>
<g fill="none" stroke="#00BE67" stroke-width="0.6" stroke-linejoin="round"><path d="M606.45 185.65L610.75 189.95M606.45 189.95L610.75 185.65"/></g>
<text x="622.1" y="192.6" font-size="13.45" fill="#000">KEMspect</text>
<g fill="none" stroke="#00BFC4" stroke-width="0.6" stroke-linejoin="round"><path d="M608.6 198.2L611.3 200.9L608.6 203.6L605.9 200.9Z"/></g>
<text x="622.1" y="205.7" font-size="13.45" fill="#000">MHKEM</text>
<g fill="none" stroke="#00A9FF" stroke-width="0.6" stroke-linejoin="round"><path d="M608.6 217.03L611.23 212.48L605.97 212.48Z"/></g>
<text x="622.1" y="218.8" font-size="13.45" fill="#000">MKEM</text>
<g fill="none" stroke="#C77CFF" stroke-width="0.6" stroke-linejoin="round"><path d="M606.5 225H610.7V229.2H606.5ZM606.5 225L610.7 229.2M606.5 229.2L610.7 225"/></g>
<text x="622.1" y="231.9" font-size="13.45" fill="#000">noPSF-OSEM</text>
<g fill="none" stroke="#FF61CC" stroke-width="0.6" stroke-linejoin="round"><path d="M605.8 240.2H611.4M608.6 237.4V243M606.6 238.2L610.6 242.2M606.6 242.2L610.6 238.2"/></g>
<text x="622.1" y="245" font-size="13.45" fill="#000">OSEM</text>
</svg>
</body></html>
